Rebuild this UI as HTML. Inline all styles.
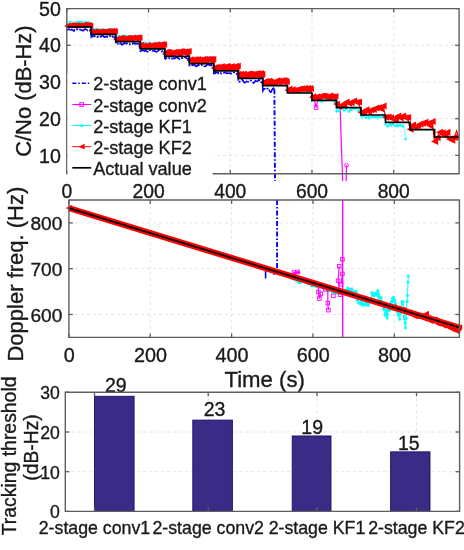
<!DOCTYPE html>
<html><head><meta charset="utf-8"><style>
html,body{margin:0;padding:0;background:#fff;}
svg{display:block;filter:blur(0.35px);}
text{font-family:"Liberation Sans", sans-serif;fill:#1a1a1a;stroke:#1a1a1a;stroke-width:0.35px;}
</style></head><body>
<svg width="464" height="550" viewBox="0 0 464 550">
<rect width="464" height="550" fill="#fff"/>
<line x1="148.53" y1="8.6" x2="148.53" y2="173.7" stroke="#e4e4e4" stroke-width="1" stroke-dasharray="3,3"/>
<line x1="230.26" y1="8.6" x2="230.26" y2="173.7" stroke="#e4e4e4" stroke-width="1" stroke-dasharray="3,3"/>
<line x1="311.99" y1="8.6" x2="311.99" y2="173.7" stroke="#e4e4e4" stroke-width="1" stroke-dasharray="3,3"/>
<line x1="393.72" y1="8.6" x2="393.72" y2="173.7" stroke="#e4e4e4" stroke-width="1" stroke-dasharray="3,3"/>
<line x1="66.8" y1="155.36" x2="459.1" y2="155.36" stroke="#e4e4e4" stroke-width="1" stroke-dasharray="3,3"/>
<line x1="66.8" y1="118.67" x2="459.1" y2="118.67" stroke="#e4e4e4" stroke-width="1" stroke-dasharray="3,3"/>
<line x1="66.8" y1="81.98" x2="459.1" y2="81.98" stroke="#e4e4e4" stroke-width="1" stroke-dasharray="3,3"/>
<line x1="66.8" y1="45.29" x2="459.1" y2="45.29" stroke="#e4e4e4" stroke-width="1" stroke-dasharray="3,3"/>
<polyline points="66.8,24.66 67.62,25.17 68.43,25.17 69.25,25.36 70.07,24.57 70.89,24.62 71.7,24.52 72.52,24.61 73.34,25.23 74.16,24.5 74.97,24.98 75.79,24.6 76.61,24.7 77.42,24.86 78.24,25.35 79.06,25.07 79.88,24.36 80.69,24.68 81.51,24.52 82.33,25.39 83.15,25.32 83.96,25.31 84.78,25.34 85.6,25.24 86.41,25.48 87.23,25.3 88.05,24.65 88.87,25.36 89.68,24.93 90.5,25.25 91.32,32.36 92.14,32.2 92.95,32.12 93.77,32.2 94.59,32.06 95.41,31.82 96.22,32.67 97.04,32.64 97.86,32.87 98.67,32.51 99.49,32.35 100.31,32.58 101.13,31.84 101.94,32.49 102.76,32.21 103.58,31.89 104.4,31.93 105.21,32.31 106.03,31.99 106.85,32.23 107.66,32.41 108.48,32.16 109.3,31.84 110.12,32.27 110.93,31.96 111.75,31.97 112.57,31.92 113.39,32.12 114.2,31.77 115.02,32.46 115.84,40.16 116.65,39.49 117.47,39.88 118.29,40.14 119.11,39.07 119.92,39.19 120.74,39.99 121.56,40.03 122.38,39.79 123.19,39.21 124.01,39.52 124.83,40.06 125.65,40.08 126.46,39.98 127.28,39.26 128.1,40.04 128.91,39.47 129.73,39.88 130.55,39.18 131.37,40.19 132.18,39.74 133,39.89 133.82,39.27 134.64,39.76 135.45,39.72 136.27,39.73 137.09,39.45 137.9,39.89 138.72,39.43 139.54,39.37 140.36,46.56 141.17,47.18 141.99,46.49 142.81,46.63 143.63,46.44 144.44,47.13 145.26,47.03 146.08,47.01 146.89,46.4 147.71,46.89 148.53,46.77 149.35,46.47 150.16,46.36 150.98,47.56 151.8,46.5 152.62,46.72 153.43,46.68 154.25,47.07 155.07,46.45 155.88,46.92 156.7,46.8 157.52,47.36 158.34,46.36 159.15,46.76 159.97,46.95 160.79,47.52 161.61,46.98 162.42,46.93 163.24,47.16 164.06,46.71 164.88,53.73 165.69,54.3 166.51,54.79 167.33,54.58 168.14,54.01 168.96,54.52 169.78,54.71 170.6,54.01 171.41,54.4 172.23,54.12 173.05,53.99 173.87,54.04 174.68,53.94 175.5,54.12 176.32,53.74 177.13,54.17 177.95,53.8 178.77,54.61 179.59,54.42 180.4,53.7 181.22,54.62 182.04,53.92 182.86,54.27 183.67,54.36 184.49,54.09 185.31,54.04 186.12,54.22 186.94,53.86 187.76,54.73 188.58,53.83 189.39,62.02 190.21,61.3 191.03,61.4 191.85,61.5 192.66,61.07 193.48,61.19 194.3,61.47 195.11,61.56 195.93,62.09 196.75,62.22 197.57,61.09 198.38,61.68 199.2,61.19 200.02,62 200.84,61.42 201.65,62.1 202.47,61.69 203.29,61.18 204.11,61.04 204.92,61.33 205.74,62.07 206.56,61.21 207.37,61.61 208.19,61.48 209.01,61.45 209.83,62 210.64,61.29 211.46,61.9 212.28,61.83 213.1,62.16 213.91,68.99 214.73,69.48 215.55,68.9 216.36,69.06 217.18,69.12 218,69.38 218.82,69.45 219.63,68.51 220.45,68.54 221.27,69.01 222.09,69.35 222.9,69.01 223.72,68.73 224.54,69.53 225.35,68.73 226.17,68.48 226.99,68.43 227.81,68.41 228.62,69.24 229.44,68.5 230.26,69.23 231.08,69.41 231.89,69.57 232.71,69.34 233.53,68.88 234.34,69.12 235.16,69.37 235.98,69.23 236.8,68.72 237.61,69.29 238.43,75.84 239.25,76.08 240.07,76.9 240.88,76.27 241.7,76.03 242.52,76.65 243.33,76.25 244.15,75.71 244.97,75.74 245.79,76.02 246.6,76.11 247.42,76.83 248.24,76.01 249.06,76.73 249.87,76.73 250.69,76.21 251.51,76.9 252.33,76.62 253.14,76.29 253.96,76.02 254.78,76.26 255.59,76.79 256.41,76.35 257.23,75.94 258.05,76.16 258.86,76.28 259.68,75.94 260.5,76.4 261.32,75.75 262.13,76.69 262.95,83.26 263.77,83.17 264.58,83.75 265.4,83.42 266.22,84.11 267.04,83.64 267.85,83.67 268.67,84.05 269.49,83.3 270.31,83.94 271.12,83.83 271.94,83.56 272.76,84.2 273.57,83.07 274.39,84.08 275.21,83.22 276.03,84.05 276.84,83.23 277.66,83.11 278.48,83.65 279.3,84.16 280.11,83.36 280.93,83.63 281.75,83.78 282.56,83.34 283.38,83.68 284.2,83.06 285.02,83.59 285.83,83.96 286.65,83.45 287.47,90.65 288.29,90.45 289.1,91.23 289.92,90.9 290.74,91.48 291.56,91.27 292.37,90.5 293.19,91.48 294.01,91.5 294.82,91.36 295.64,91.38 296.46,91.2 297.28,91.25 298.09,91.19 298.91,91.09 299.73,90.69 300.55,90.54 301.36,91.26 302.18,91.1 303,90.45 303.81,91.15 304.63,91.12 305.45,91 306.27,91.31 307.08,91.44 307.9,90.84 308.72,91.36 309.54,90.98 310.35,91.07 311.17,90.88 311.99,98.84 312.8,98.26 313.62,98.87 314.44,100.32 315.26,103.92 316.07,107.52 316.89,103.92 317.71,100.32 318.53,97.82 319.34,98.3 320.16,98.22 320.98,98.7 321.8,98.66 322.61,98.91 323.43,98.26 324.25,98.21 325.06,98.4 325.88,98.62 326.7,97.82 327.52,97.98 328.33,97.9 329.15,98.11 329.97,98.08 330.79,98.88 331.6,97.97 332.42,98.84 333.24,98.08 334.05,97.97 334.87,98.89 335.69,97.83 336.51,105.2 337.32,105.21 338.14,105.14 338.96,105.52 339.78,105.31 340.18,109.66 342.64,181.04" fill="none" stroke="#ff00ff" stroke-width="1.2" />
<polyline points="346.11,181.04 346.52,165.26" fill="none" stroke="#ff00ff" stroke-width="1.2" />
<rect x="314.27" y="105.72" width="3.6" height="3.6" fill="none" stroke="#ff00ff" stroke-width="0.9"/>
<circle cx="346.52" cy="165.26" r="1.9" fill="none" stroke="#ff00ff" stroke-width="0.9"/>
<polyline points="66.8,22.1 67.62,22.43 68.43,22.44 69.25,21.5 70.07,21.26 70.89,21.92 71.7,21.74 72.52,22.7 73.34,22.49 74.16,22.33 74.97,22.25 75.79,22.43 76.61,21.51 77.42,22.04 78.24,21.54 79.06,22.88 79.88,21.35 80.69,22.72 81.51,21.38 82.33,22.48 83.15,21.85 83.96,21.97 84.78,22.76 85.6,21.28 86.41,21.35 87.23,22.89 88.05,22.16 88.87,21.41 89.68,23.02 90.5,22.95 91.32,28.43 92.14,28.99 92.95,28.48 93.77,28.79 94.59,29.35 95.41,28.53 96.22,29.49 97.04,28.32 97.86,28.54 98.67,29.7 99.49,28.95 100.31,28.99 101.13,29.3 101.94,29.09 102.76,28.92 103.58,28.29 104.4,29.54 105.21,29.97 106.03,29.99 106.85,29.43 107.66,28.87 108.48,28.89 109.3,29.47 110.12,29.45 110.93,28.44 111.75,28.66 112.57,28.89 113.39,29.15 114.2,29.69 115.02,29.13 115.84,35.27 116.65,36.7 117.47,35.99 118.29,36.15 119.11,35.62 119.92,35.99 120.74,35.92 121.56,36.61 122.38,35.4 123.19,36.21 124.01,35.54 124.83,36.47 125.65,35.29 126.46,35.72 127.28,35.84 128.1,36.37 128.91,35.31 129.73,36.05 130.55,35.6 131.37,35.73 132.18,36.08 133,36.95 133.82,36.09 134.64,36.94 135.45,35.52 136.27,36.88 137.09,35.88 137.9,35.56 138.72,36.57 139.54,36.86 140.36,42.07 141.17,42.54 141.99,43.44 142.81,42.67 143.63,42.49 144.44,42.07 145.26,42.13 146.08,43.17 146.89,43.83 147.71,43.86 148.53,42.96 149.35,42.1 150.16,42.64 150.98,43.48 151.8,43.56 152.62,43.21 153.43,42.47 154.25,43.01 155.07,42.92 155.88,43.19 156.7,42.53 157.52,43.76 158.34,43.67 159.15,42.35 159.97,42.58 160.79,43.63 161.61,42.56 162.42,43.76 163.24,42.99 164.06,43.31 164.88,52.66 165.69,51.78 166.51,51.91 167.33,51.85 168.14,52.63 168.96,52.64 169.78,51.63 170.6,52.99 171.41,52.15 172.23,51.83 173.05,52.18 173.87,53.16 174.68,52.4 175.5,52.52 176.32,53.05 177.13,53.13 177.95,52.76 178.77,52.15 179.59,52.45 180.4,53.02 181.22,52.82 182.04,52.44 182.86,52.02 183.67,52.06 184.49,52.72 185.31,52.41 186.12,51.43 186.94,52.67 187.76,53.02 188.58,52.83 189.39,62.35 190.21,62.37 191.03,61.7 191.85,62.15 192.66,61.42 193.48,60.91 194.3,61.37 195.11,61.3 195.93,62.41 196.75,61.97 197.57,61.71 198.38,61.85 199.2,60.96 200.02,61.69 200.84,61.99 201.65,61.44 202.47,61.18 203.29,61.47 204.11,61.32 204.92,61.97 205.74,60.99 206.56,60.9 207.37,61.3 208.19,61.99 209.01,62.1 209.83,61.92 210.64,62.42 211.46,61.39 212.28,60.79 213.1,61.61 213.91,69.07 214.73,68.59 215.55,69.47 216.36,68.89 217.18,68.7 218,68.86 218.82,69.97 219.63,68.29 220.45,68.92 221.27,68.77 222.09,68.63 222.9,69.05 223.72,68.67 224.54,69.93 225.35,69.17 226.17,69.53 226.99,68.56 227.81,69.11 228.62,69.36 229.44,69.79 230.26,68.72 231.08,69.1 231.89,69.81 232.71,69.77 233.53,68.68 234.34,69.24 235.16,69.64 235.98,68.98 236.8,69.48 237.61,69.47 238.43,77.56 239.25,76.81 240.07,77.03 240.88,76.44 241.7,77.13 242.52,76.39 243.33,76.71 244.15,76.46 244.97,76.36 245.79,76.05 246.6,76.22 247.42,76.79 248.24,76.26 249.06,75.89 249.87,77.26 250.69,76.32 251.51,77.49 252.33,76.89 253.14,76.51 253.96,77.38 254.78,77.42 255.59,76.39 256.41,76.04 257.23,76.96 258.05,77.33 258.86,76.9 259.68,77.22 260.5,76.55 261.32,76.92 262.13,76.28 262.95,83.98 263.77,83.93 264.58,83.94 265.4,83.97 266.22,84.7 267.04,83.55 267.85,83.62 268.67,83.71 269.49,84.99 270.31,84.19 271.12,83.34 271.94,84.75 272.76,84.82 273.57,84.72 274.39,83.89 275.21,84.57 276.03,83.8 276.84,83.49 277.66,84.8 278.48,84.75 279.3,83.63 280.11,84.83 280.93,83.29 281.75,83.8 282.56,83.27 283.38,83.55 284.2,83.54 285.02,84.54 285.83,83.78 286.65,83.59 287.47,91.27 288.29,91.5 289.1,92.49 289.92,92.03 290.74,91.12 291.56,92.17 292.37,91.9 293.19,91.74 294.01,91.88 294.82,92.11 295.64,92.38 296.46,91.84 297.28,92.08 298.09,91.78 298.91,92.08 299.73,91.63 300.55,91.68 301.36,91.86 302.18,92.22 303,91.44 303.81,92.6 304.63,91.82 305.45,92.47 306.27,92.18 307.08,92.66 307.9,92.16 308.72,91.7 309.54,91.67 310.35,92.03 311.17,92.29" fill="none" stroke="#00ffff" stroke-width="1.1" />
<polyline points="311.17,92.29 311.99,101.01 312.8,97.89 313.62,97.6 314.44,97.8 315.26,97.69 316.07,97.57 316.89,97.36 317.71,98.42 318.53,97.82 319.34,100.34 320.16,100.03 320.98,101.57 321.8,101.55 322.61,100.61 323.43,101.5 324.25,97.45 325.06,98.33 325.88,101.4 326.7,99.41 327.52,98.23 328.33,100.65 329.15,99.19 329.97,99.71 330.79,98.71 331.6,98.39 332.42,97.71 333.24,99.99 334.05,101.51 334.87,101.66 335.69,100.69 336.51,111.37 337.32,108.85 338.14,108.57 338.96,111.32 339.78,109.9 340.59,110.2 341.41,107.32 342.23,108.27 343.04,109.38 343.86,110.48 344.68,110.89 345.5,110.59 346.31,108.75 347.13,108.94 347.95,111.05 348.77,111.61 349.58,109.39 350.4,108.12 351.22,110.01 352.03,109.62 352.85,108.85 353.67,108.27 354.49,108.96 355.3,109.95 356.12,107.82 356.94,109.64 357.76,111.45 358.57,110.54 359.39,108.37 360.21,109.1 361.03,115.75 361.84,118.54 362.66,118.08 363.48,116.06 364.29,117.71 365.11,117.92 365.93,117.84 366.75,116.96 367.56,116.66 368.38,116.86 369.2,119.69 370.02,116.75 370.83,117.51 371.65,117.32 372.47,116.06 373.28,117.06 374.1,116.2 374.92,116.72 375.74,116.91 376.55,116.84 377.37,119.42 378.19,116.6 379.01,116.76 379.82,118.19 380.64,117.05 381.46,117.57 382.27,118.15 383.09,115.62 383.91,118.25 384.73,115.74 385.54,124.24 386.36,126.7 387.18,127.49 388,126.1 388.81,123.89 389.63,125.06 390.45,124.38 391.26,126.84 392.08,124.16 392.9,124 393.72,125.94 394.53,125.94 395.35,125.73 396.17,125.24 396.99,127.36 397.8,125.15 398.62,127.26 399.44,124.86 400.25,125.18 401.07,124.72 401.89,126.28 402.71,126.44 403.52,124.19 404.75,129.67 405.57,139.21" fill="none" stroke="#00ffff" stroke-width="0.7" />
<path d="M287.47 91.27m-1.3 0a1.3 1.3 0 1 0 2.6 0a1.3 1.3 0 1 0 -2.6 0M289.92 92.03m-1.3 0a1.3 1.3 0 1 0 2.6 0a1.3 1.3 0 1 0 -2.6 0M292.37 91.9m-1.3 0a1.3 1.3 0 1 0 2.6 0a1.3 1.3 0 1 0 -2.6 0M294.82 92.11m-1.3 0a1.3 1.3 0 1 0 2.6 0a1.3 1.3 0 1 0 -2.6 0M297.28 92.08m-1.3 0a1.3 1.3 0 1 0 2.6 0a1.3 1.3 0 1 0 -2.6 0M299.73 91.63m-1.3 0a1.3 1.3 0 1 0 2.6 0a1.3 1.3 0 1 0 -2.6 0M302.18 92.22m-1.3 0a1.3 1.3 0 1 0 2.6 0a1.3 1.3 0 1 0 -2.6 0M304.63 91.82m-1.3 0a1.3 1.3 0 1 0 2.6 0a1.3 1.3 0 1 0 -2.6 0M307.08 92.66m-1.3 0a1.3 1.3 0 1 0 2.6 0a1.3 1.3 0 1 0 -2.6 0M309.54 91.67m-1.3 0a1.3 1.3 0 1 0 2.6 0a1.3 1.3 0 1 0 -2.6 0M311.99 101.01m-1.3 0a1.3 1.3 0 1 0 2.6 0a1.3 1.3 0 1 0 -2.6 0M314.44 97.8m-1.3 0a1.3 1.3 0 1 0 2.6 0a1.3 1.3 0 1 0 -2.6 0M316.89 97.36m-1.3 0a1.3 1.3 0 1 0 2.6 0a1.3 1.3 0 1 0 -2.6 0M319.34 100.34m-1.3 0a1.3 1.3 0 1 0 2.6 0a1.3 1.3 0 1 0 -2.6 0M321.8 101.55m-1.3 0a1.3 1.3 0 1 0 2.6 0a1.3 1.3 0 1 0 -2.6 0M324.25 97.45m-1.3 0a1.3 1.3 0 1 0 2.6 0a1.3 1.3 0 1 0 -2.6 0M326.7 99.41m-1.3 0a1.3 1.3 0 1 0 2.6 0a1.3 1.3 0 1 0 -2.6 0M329.15 99.19m-1.3 0a1.3 1.3 0 1 0 2.6 0a1.3 1.3 0 1 0 -2.6 0M331.6 98.39m-1.3 0a1.3 1.3 0 1 0 2.6 0a1.3 1.3 0 1 0 -2.6 0M334.05 101.51m-1.3 0a1.3 1.3 0 1 0 2.6 0a1.3 1.3 0 1 0 -2.6 0M336.51 111.37m-1.3 0a1.3 1.3 0 1 0 2.6 0a1.3 1.3 0 1 0 -2.6 0M338.96 111.32m-1.3 0a1.3 1.3 0 1 0 2.6 0a1.3 1.3 0 1 0 -2.6 0M341.41 107.32m-1.3 0a1.3 1.3 0 1 0 2.6 0a1.3 1.3 0 1 0 -2.6 0M343.86 110.48m-1.3 0a1.3 1.3 0 1 0 2.6 0a1.3 1.3 0 1 0 -2.6 0M346.31 108.75m-1.3 0a1.3 1.3 0 1 0 2.6 0a1.3 1.3 0 1 0 -2.6 0M348.77 111.61m-1.3 0a1.3 1.3 0 1 0 2.6 0a1.3 1.3 0 1 0 -2.6 0M351.22 110.01m-1.3 0a1.3 1.3 0 1 0 2.6 0a1.3 1.3 0 1 0 -2.6 0M353.67 108.27m-1.3 0a1.3 1.3 0 1 0 2.6 0a1.3 1.3 0 1 0 -2.6 0M356.12 107.82m-1.3 0a1.3 1.3 0 1 0 2.6 0a1.3 1.3 0 1 0 -2.6 0M358.57 110.54m-1.3 0a1.3 1.3 0 1 0 2.6 0a1.3 1.3 0 1 0 -2.6 0M361.03 115.75m-1.3 0a1.3 1.3 0 1 0 2.6 0a1.3 1.3 0 1 0 -2.6 0M363.48 116.06m-1.3 0a1.3 1.3 0 1 0 2.6 0a1.3 1.3 0 1 0 -2.6 0M365.93 117.84m-1.3 0a1.3 1.3 0 1 0 2.6 0a1.3 1.3 0 1 0 -2.6 0M368.38 116.86m-1.3 0a1.3 1.3 0 1 0 2.6 0a1.3 1.3 0 1 0 -2.6 0M370.83 117.51m-1.3 0a1.3 1.3 0 1 0 2.6 0a1.3 1.3 0 1 0 -2.6 0M373.28 117.06m-1.3 0a1.3 1.3 0 1 0 2.6 0a1.3 1.3 0 1 0 -2.6 0M375.74 116.91m-1.3 0a1.3 1.3 0 1 0 2.6 0a1.3 1.3 0 1 0 -2.6 0M378.19 116.6m-1.3 0a1.3 1.3 0 1 0 2.6 0a1.3 1.3 0 1 0 -2.6 0M380.64 117.05m-1.3 0a1.3 1.3 0 1 0 2.6 0a1.3 1.3 0 1 0 -2.6 0M383.09 115.62m-1.3 0a1.3 1.3 0 1 0 2.6 0a1.3 1.3 0 1 0 -2.6 0M385.54 124.24m-1.3 0a1.3 1.3 0 1 0 2.6 0a1.3 1.3 0 1 0 -2.6 0M388 126.1m-1.3 0a1.3 1.3 0 1 0 2.6 0a1.3 1.3 0 1 0 -2.6 0M390.45 124.38m-1.3 0a1.3 1.3 0 1 0 2.6 0a1.3 1.3 0 1 0 -2.6 0M392.9 124m-1.3 0a1.3 1.3 0 1 0 2.6 0a1.3 1.3 0 1 0 -2.6 0M395.35 125.73m-1.3 0a1.3 1.3 0 1 0 2.6 0a1.3 1.3 0 1 0 -2.6 0M397.8 125.15m-1.3 0a1.3 1.3 0 1 0 2.6 0a1.3 1.3 0 1 0 -2.6 0M400.25 125.18m-1.3 0a1.3 1.3 0 1 0 2.6 0a1.3 1.3 0 1 0 -2.6 0M402.71 126.44m-1.3 0a1.3 1.3 0 1 0 2.6 0a1.3 1.3 0 1 0 -2.6 0M405.57 139.21m-1.3 0a1.3 1.3 0 1 0 2.6 0a1.3 1.3 0 1 0 -2.6 0" fill="#00ffff"/>
<polyline points="66.8,26.27 67.41,25.31 68.03,25.37 68.64,24.89 69.25,25.95 69.86,25.96 70.48,25.18 71.09,25.29 71.7,25.84 72.32,25.21 72.93,25.66 73.54,25.04 74.16,26.08 74.77,25.89 75.38,24.79 75.99,25.65 76.61,25.79 77.22,24.9 77.83,25.16 78.45,25.92 79.06,25.26 79.67,25.07 80.29,25.85 80.9,25.06 81.51,25.89 82.12,25.53 82.74,25.92 83.35,25.71 83.96,24.46 84.58,25.36 85.19,24.41 85.8,25.28 86.41,24.99 87.03,24.55 87.64,24.84 88.25,25.74 88.87,24.96 89.48,24.88 90.09,25.58 90.71,25.71 91.32,31.11 91.93,31.77 92.54,32.35 93.16,31.85 93.77,32.27 94.38,31.17 95,31.71 95.61,32.44 96.22,31.09 96.84,32.43 97.45,32.06 98.06,32.51 98.67,31.17 99.29,32.32 99.9,31.53 100.51,32.32 101.13,31.58 101.74,31.19 102.35,31.45 102.97,31.58 103.58,31.51 104.19,31.58 104.8,31.27 105.42,32.19 106.03,31.46 106.64,31.89 107.26,30.7 107.87,30.55 108.48,32.16 109.09,32 109.71,30.94 110.32,31.17 110.93,32.18 111.55,30.89 112.16,30.42 112.77,31.38 113.39,31.5 114,31.07 114.61,30.37 115.22,31.61 115.84,39.2 116.45,39.43 117.06,38.47 117.68,38.79 118.29,39.23 118.9,38.93 119.52,39.66 120.13,39.05 120.74,37.61 121.35,38.43 121.97,39.06 122.58,37.65 123.19,38.87 123.81,39.08 124.42,39.52 125.03,39.26 125.65,39.13 126.26,39.05 126.87,37.66 127.48,38.94 128.1,38.96 128.71,38.18 129.32,37.49 129.94,38.81 130.55,37.79 131.16,38.61 131.77,38.18 132.39,38.09 133,37.33 133.61,37.71 134.23,38.22 134.84,37.49 135.45,38.49 136.07,38.43 136.68,37.19 137.29,38.05 137.9,37.55 138.52,38.51 139.13,37.21 139.74,37.84 140.36,46.35 140.97,44.69 141.58,45.78 142.2,46.07 142.81,46.24 143.42,46.6 144.03,46.35 144.65,45.15 145.26,46.45 145.87,46.15 146.49,45.68 147.1,45.43 147.71,45.8 148.32,44.81 148.94,46.06 149.55,45.77 150.16,45.62 150.78,46.31 151.39,46.06 152,46.23 152.62,44.82 153.23,46.19 153.84,44.92 154.45,45.97 155.07,44.93 155.68,44.88 156.29,45.59 156.91,44.18 157.52,44.83 158.13,45.04 158.75,46.25 159.36,45.37 159.97,45.69 160.58,45.18 161.2,44.04 161.81,44.19 162.42,46.1 163.04,44.59 163.65,43.96 164.26,44.89 164.88,54 165.49,52.1 166.1,53.15 166.71,51.78 167.33,52.01 167.94,52.1 168.55,51.83 169.17,53.93 169.78,52.13 170.39,53.3 171,53.7 171.62,53.08 172.23,52.55 172.84,53.96 173.46,52.84 174.07,52 174.68,52.69 175.3,52.59 175.91,53.14 176.52,51.46 177.13,53.21 177.75,52.13 178.36,52.2 178.97,53.76 179.59,51.3 180.2,53.14 180.81,51.27 181.43,51.4 182.04,51.45 182.65,51.54 183.26,52.64 183.88,52.5 184.49,52.72 185.1,51.25 185.72,53.45 186.33,53.17 186.94,51.14 187.55,51.49 188.17,51.71 188.78,51.05 189.39,60.22 190.01,59.42 190.62,60.38 191.23,59.21 191.85,61.27 192.46,60.33 193.07,59.96 193.68,59.39 194.3,60.3 194.91,59.63 195.52,58.89 196.14,60.24 196.75,60.76 197.36,61.17 197.98,59.06 198.59,60.01 199.2,60.2 199.81,59.85 200.43,60.83 201.04,60.55 201.65,60.49 202.27,60.42 202.88,58.89 203.49,60.4 204.11,60.77 204.72,58.8 205.33,59.55 205.94,60.86 206.56,59.22 207.17,59.17 207.78,59.23 208.4,58.9 209.01,59.75 209.62,60.23 210.23,58.91 210.85,59.18 211.46,58.96 212.07,60.24 212.69,59.75 213.3,58.93 213.91,67.91 214.53,67.33 215.14,67.64 215.75,66.9 216.36,67.91 216.98,67.5 217.59,66.64 218.2,67.93 218.82,68.25 219.43,67.05 220.04,68.31 220.66,66.44 221.27,67.9 221.88,66.28 222.49,67.2 223.11,68.14 223.72,67.18 224.33,66.74 224.95,67.22 225.56,66.82 226.17,67.47 226.78,65.94 227.4,67.92 228.01,66.31 228.62,68.26 229.24,67 229.85,68.1 230.46,67.91 231.08,66.72 231.69,65.89 232.3,67.38 232.91,67.12 233.53,66.91 234.14,66.56 234.75,67.18 235.37,67.16 235.98,65.85 236.59,66.59 237.21,67.08 237.82,65.87 238.43,73.65 239.04,75.1 239.66,76.16 240.27,75.38 240.88,73.82 241.5,75.68 242.11,75.58 242.72,74.01 243.33,75.75 243.95,73.81 244.56,75.41 245.17,74.96 245.79,74.4 246.4,75.63 247.01,73.88 247.63,74.73 248.24,73.84 248.85,73.83 249.46,75.59 250.08,73.63 250.69,73.61 251.3,75.09 251.92,74.15 252.53,75.13 253.14,74.24 253.76,73.66 254.37,74.61 254.98,74.18 255.59,75.2 256.21,73.27 256.82,73.86 257.43,73.3 258.05,75.23 258.66,73.47 259.27,75.15 259.89,73.91 260.5,74.73 261.11,72.96 261.72,75.01 262.34,74.03 262.95,82.36 263.56,82.55 264.18,83.34 264.79,81.78 265.4,80.98 266.01,82.5 266.63,81.11 267.24,82.51 267.85,82.65 268.47,82.16 269.08,80.82 269.69,81.28 270.31,81.63 270.92,83.1 271.53,82.03 272.14,83.11 272.76,82.96 273.37,82.14 273.98,82.45 274.6,82.78 275.21,81.72 275.82,81 276.44,80.61 277.05,80.61 277.66,81.83 278.27,82.43 278.89,80.41 279.5,81.75 280.11,81.93 280.73,80.68 281.34,81.33 281.95,80.3 282.56,80.91 283.18,80.27 283.79,82.25 284.4,80.22 285.02,81.21 285.63,80.79 286.24,81.76 286.86,81.88 287.47,90.31 288.49,90.57 289.51,88.57 290.53,90.6 291.56,90.25 292.58,89.24 293.6,90.25 294.62,90.18 295.64,90.03 296.66,90.03 297.68,90.54 298.71,88.69 299.73,88.84 300.75,89.66 301.77,88.15 302.79,88.95 303.81,89.74 304.84,87.85 305.86,89.62 306.88,88.14 307.9,88.07 308.92,90.03 309.94,87.9 310.97,88.91 311.99,97.32 313.01,96.2 314.03,97.34 315.05,97.79 316.07,98.2 317.1,96.15 318.12,97.13 319.14,96.47 320.16,96.58 321.18,95.72 322.2,95.78 323.23,95.73 324.25,96.71 325.27,95.69 326.29,97.09 327.31,97.47 328.33,96.19 329.35,97.6 330.38,95.29 331.4,96.79 332.42,96.5 333.44,96.77 334.46,96.65 335.48,96.08 336.51,104.08 338.96,106.51 341.41,104.92 343.86,104.87 346.31,101.91 348.77,103.38 351.22,102.96 353.67,100.79 356.12,102.37 358.57,101.98 361.03,112.2 363.48,112.67 365.93,109.86 368.38,111.66 370.83,110.12 373.28,109.43 375.74,108.04 378.19,107.8 380.64,108.77 383.09,105.96 385.54,117.21 388,116.91 390.45,117.9 392.9,119.11 395.35,119.33 397.8,115.97 400.25,117.94 402.71,115.95 405.16,117.76 407.61,117.54 410.06,129.27 412.51,124.98 414.97,127.15 417.42,125.71 419.87,124.11 422.32,123.21 424.77,122.28 427.23,123.56 429.68,125.67 432.13,121.47 434.58,141.47 437.03,137.69 439.49,132.36 441.94,132.96 444.39,135.26 446.84,132.33 449.29,139.04 451.74,140.22 454.2,137.44 456.65,130.91 459.1,139.61" fill="none" stroke="#ff0000" stroke-width="1.2" />
<path d="M64.2 26.27L69.4 23.67L69.4 28.87ZM64.81 25.31L70.01 22.71L70.01 27.91ZM65.43 25.37L70.63 22.77L70.63 27.97ZM66.04 24.89L71.24 22.29L71.24 27.49ZM66.65 25.95L71.85 23.35L71.85 28.55ZM67.26 25.96L72.46 23.36L72.46 28.56ZM67.88 25.18L73.08 22.58L73.08 27.78ZM68.49 25.29L73.69 22.69L73.69 27.89ZM69.1 25.84L74.3 23.24L74.3 28.44ZM69.72 25.21L74.92 22.61L74.92 27.81ZM70.33 25.66L75.53 23.06L75.53 28.26ZM70.94 25.04L76.14 22.44L76.14 27.64ZM71.56 26.08L76.76 23.48L76.76 28.68ZM72.17 25.89L77.37 23.29L77.37 28.49ZM72.78 24.79L77.98 22.19L77.98 27.39ZM73.39 25.65L78.59 23.05L78.59 28.25ZM74.01 25.79L79.21 23.19L79.21 28.39ZM74.62 24.9L79.82 22.3L79.82 27.5ZM75.23 25.16L80.43 22.56L80.43 27.76ZM75.85 25.92L81.05 23.32L81.05 28.52ZM76.46 25.26L81.66 22.66L81.66 27.86ZM77.07 25.07L82.27 22.47L82.27 27.67ZM77.69 25.85L82.89 23.25L82.89 28.45ZM78.3 25.06L83.5 22.46L83.5 27.66ZM78.91 25.89L84.11 23.29L84.11 28.49ZM79.52 25.53L84.72 22.93L84.72 28.13ZM80.14 25.92L85.34 23.32L85.34 28.52ZM80.75 25.71L85.95 23.11L85.95 28.31ZM81.36 24.46L86.56 21.86L86.56 27.06ZM81.98 25.36L87.18 22.76L87.18 27.96ZM82.59 24.41L87.79 21.81L87.79 27.01ZM83.2 25.28L88.4 22.68L88.4 27.88ZM83.81 24.99L89.01 22.39L89.01 27.59ZM84.43 24.55L89.63 21.95L89.63 27.15ZM85.04 24.84L90.24 22.24L90.24 27.44ZM85.65 25.74L90.85 23.14L90.85 28.34ZM86.27 24.96L91.47 22.36L91.47 27.56ZM86.88 24.88L92.08 22.28L92.08 27.48ZM87.49 25.58L92.69 22.98L92.69 28.18ZM88.11 25.71L93.31 23.11L93.31 28.31ZM88.62 31.11L94.02 28.41L94.02 33.81ZM89.23 31.77L94.63 29.07L94.63 34.47ZM89.84 32.35L95.24 29.65L95.24 35.05ZM90.46 31.85L95.86 29.15L95.86 34.55ZM91.07 32.27L96.47 29.57L96.47 34.97ZM91.68 31.17L97.08 28.47L97.08 33.87ZM92.3 31.71L97.7 29.01L97.7 34.41ZM92.91 32.44L98.31 29.74L98.31 35.14ZM93.52 31.09L98.92 28.39L98.92 33.79ZM94.14 32.43L99.54 29.73L99.54 35.13ZM94.75 32.06L100.15 29.36L100.15 34.76ZM95.36 32.51L100.76 29.81L100.76 35.21ZM95.97 31.17L101.37 28.47L101.37 33.87ZM96.59 32.32L101.99 29.62L101.99 35.02ZM97.2 31.53L102.6 28.83L102.6 34.23ZM97.81 32.32L103.21 29.62L103.21 35.02ZM98.43 31.58L103.83 28.88L103.83 34.28ZM99.04 31.19L104.44 28.49L104.44 33.89ZM99.65 31.45L105.05 28.75L105.05 34.15ZM100.27 31.58L105.67 28.88L105.67 34.28ZM100.88 31.51L106.28 28.81L106.28 34.21ZM101.49 31.58L106.89 28.88L106.89 34.28ZM102.1 31.27L107.5 28.57L107.5 33.97ZM102.72 32.19L108.12 29.49L108.12 34.89ZM103.33 31.46L108.73 28.76L108.73 34.16ZM103.94 31.89L109.34 29.19L109.34 34.59ZM104.56 30.7L109.96 28L109.96 33.4ZM105.17 30.55L110.57 27.85L110.57 33.25ZM105.78 32.16L111.18 29.46L111.18 34.86ZM106.39 32L111.79 29.3L111.79 34.7ZM107.01 30.94L112.41 28.24L112.41 33.64ZM107.62 31.17L113.02 28.47L113.02 33.87ZM108.23 32.18L113.63 29.48L113.63 34.88ZM108.85 30.89L114.25 28.19L114.25 33.59ZM109.46 30.42L114.86 27.72L114.86 33.12ZM110.07 31.38L115.47 28.68L115.47 34.08ZM110.69 31.5L116.09 28.8L116.09 34.2ZM111.3 31.07L116.7 28.37L116.7 33.77ZM111.91 30.37L117.31 27.67L117.31 33.07ZM112.52 31.61L117.92 28.91L117.92 34.31ZM113.04 39.2L118.64 36.4L118.64 42ZM113.65 39.43L119.25 36.63L119.25 42.23ZM114.26 38.47L119.86 35.67L119.86 41.27ZM114.88 38.79L120.48 35.99L120.48 41.59ZM115.49 39.23L121.09 36.43L121.09 42.03ZM116.1 38.93L121.7 36.13L121.7 41.73ZM116.72 39.66L122.32 36.86L122.32 42.46ZM117.33 39.05L122.93 36.25L122.93 41.85ZM117.94 37.61L123.54 34.81L123.54 40.41ZM118.55 38.43L124.15 35.63L124.15 41.23ZM119.17 39.06L124.77 36.26L124.77 41.86ZM119.78 37.65L125.38 34.85L125.38 40.45ZM120.39 38.87L125.99 36.07L125.99 41.67ZM121.01 39.08L126.61 36.28L126.61 41.88ZM121.62 39.52L127.22 36.72L127.22 42.32ZM122.23 39.26L127.83 36.46L127.83 42.06ZM122.85 39.13L128.45 36.33L128.45 41.93ZM123.46 39.05L129.06 36.25L129.06 41.85ZM124.07 37.66L129.67 34.86L129.67 40.46ZM124.68 38.94L130.28 36.14L130.28 41.74ZM125.3 38.96L130.9 36.16L130.9 41.76ZM125.91 38.18L131.51 35.38L131.51 40.98ZM126.52 37.49L132.12 34.69L132.12 40.29ZM127.14 38.81L132.74 36.01L132.74 41.61ZM127.75 37.79L133.35 34.99L133.35 40.59ZM128.36 38.61L133.96 35.81L133.96 41.41ZM128.97 38.18L134.57 35.38L134.57 40.98ZM129.59 38.09L135.19 35.29L135.19 40.89ZM130.2 37.33L135.8 34.53L135.8 40.13ZM130.81 37.71L136.41 34.91L136.41 40.51ZM131.43 38.22L137.03 35.42L137.03 41.02ZM132.04 37.49L137.64 34.69L137.64 40.29ZM132.65 38.49L138.25 35.69L138.25 41.29ZM133.27 38.43L138.87 35.63L138.87 41.23ZM133.88 37.19L139.48 34.39L139.48 39.99ZM134.49 38.05L140.09 35.25L140.09 40.85ZM135.1 37.55L140.7 34.75L140.7 40.35ZM135.72 38.51L141.32 35.71L141.32 41.31ZM136.33 37.21L141.93 34.41L141.93 40.01ZM136.94 37.84L142.54 35.04L142.54 40.64ZM137.49 46.35L143.22 43.49L143.22 49.22ZM138.1 44.69L143.84 41.82L143.84 47.55ZM138.72 45.78L144.45 42.92L144.45 48.65ZM139.33 46.07L145.06 43.21L145.06 48.94ZM139.94 46.24L145.67 43.37L145.67 49.11ZM140.55 46.6L146.29 43.74L146.29 49.47ZM141.17 46.35L146.9 43.48L146.9 49.22ZM141.78 45.15L147.51 42.28L147.51 48.02ZM142.39 46.45L148.13 43.59L148.13 49.32ZM143.01 46.15L148.74 43.28L148.74 49.02ZM143.62 45.68L149.35 42.81L149.35 48.55ZM144.23 45.43L149.97 42.56L149.97 48.29ZM144.85 45.8L150.58 42.93L150.58 48.67ZM145.46 44.81L151.19 41.94L151.19 47.68ZM146.07 46.06L151.8 43.19L151.8 48.93ZM146.68 45.77L152.42 42.9L152.42 48.64ZM147.3 45.62L153.03 42.75L153.03 48.48ZM147.91 46.31L153.64 43.44L153.64 49.17ZM148.52 46.06L154.26 43.2L154.26 48.93ZM149.14 46.23L154.87 43.36L154.87 49.09ZM149.75 44.82L155.48 41.95L155.48 47.68ZM150.36 46.19L156.1 43.32L156.1 49.05ZM150.97 44.92L156.71 42.05L156.71 47.78ZM151.59 45.97L157.32 43.1L157.32 48.83ZM152.2 44.93L157.93 42.06L157.93 47.79ZM152.81 44.88L158.55 42.02L158.55 47.75ZM153.43 45.59L159.16 42.73L159.16 48.46ZM154.04 44.18L159.77 41.32L159.77 47.05ZM154.65 44.83L160.39 41.96L160.39 47.69ZM155.27 45.04L161 42.18L161 47.91ZM155.88 46.25L161.61 43.39L161.61 49.12ZM156.49 45.37L162.22 42.5L162.22 48.23ZM157.1 45.69L162.84 42.82L162.84 48.55ZM157.72 45.18L163.45 42.31L163.45 48.04ZM158.33 44.04L164.06 41.18L164.06 46.91ZM158.94 44.19L164.68 41.33L164.68 47.06ZM159.56 46.1L165.29 43.23L165.29 48.96ZM160.17 44.59L165.9 41.73L165.9 47.46ZM160.78 43.96L166.52 41.1L166.52 46.83ZM161.4 44.89L167.13 42.02L167.13 47.75ZM161.94 54L167.81 51.07L167.81 56.94ZM162.55 52.1L168.42 49.16L168.42 55.03ZM163.17 53.15L169.03 50.22L169.03 56.09ZM163.78 51.78L169.65 48.84L169.65 54.71ZM164.39 52.01L170.26 49.08L170.26 54.95ZM165.01 52.1L170.87 49.17L170.87 55.04ZM165.62 51.83L171.49 48.9L171.49 54.77ZM166.23 53.93L172.1 50.99L172.1 56.86ZM166.85 52.13L172.71 49.19L172.71 55.06ZM167.46 53.3L173.33 50.37L173.33 56.24ZM168.07 53.7L173.94 50.77L173.94 56.63ZM168.68 53.08L174.55 50.15L174.55 56.01ZM169.3 52.55L175.16 49.61L175.16 55.48ZM169.91 53.96L175.78 51.02L175.78 56.89ZM170.52 52.84L176.39 49.91L176.39 55.78ZM171.14 52L177 49.07L177 54.94ZM171.75 52.69L177.62 49.76L177.62 55.62ZM172.36 52.59L178.23 49.66L178.23 55.52ZM172.98 53.14L178.84 50.2L178.84 56.07ZM173.59 51.46L179.45 48.53L179.45 54.39ZM174.2 53.21L180.07 50.28L180.07 56.15ZM174.81 52.13L180.68 49.2L180.68 55.06ZM175.43 52.2L181.29 49.26L181.29 55.13ZM176.04 53.76L181.91 50.82L181.91 56.69ZM176.65 51.3L182.52 48.36L182.52 54.23ZM177.27 53.14L183.13 50.21L183.13 56.07ZM177.88 51.27L183.75 48.34L183.75 54.21ZM178.49 51.4L184.36 48.47L184.36 54.33ZM179.1 51.45L184.97 48.51L184.97 54.38ZM179.72 51.54L185.58 48.6L185.58 54.47ZM180.33 52.64L186.2 49.7L186.2 55.57ZM180.94 52.5L186.81 49.56L186.81 55.43ZM181.56 52.72L187.42 49.79L187.42 55.65ZM182.17 51.25L188.04 48.32L188.04 54.19ZM182.78 53.45L188.65 50.52L188.65 56.39ZM183.4 53.17L189.26 50.24L189.26 56.1ZM184.01 51.14L189.88 48.21L189.88 54.07ZM184.62 51.49L190.49 48.55L190.49 54.42ZM185.23 51.71L191.1 48.78L191.1 54.65ZM185.85 51.05L191.71 48.12L191.71 53.98ZM186.39 60.22L192.39 57.22L192.39 63.22ZM187.01 59.42L193.01 56.42L193.01 62.42ZM187.62 60.38L193.62 57.38L193.62 63.38ZM188.23 59.21L194.23 56.21L194.23 62.21ZM188.85 61.27L194.85 58.27L194.85 64.27ZM189.46 60.33L195.46 57.33L195.46 63.33ZM190.07 59.96L196.07 56.96L196.07 62.96ZM190.68 59.39L196.68 56.39L196.68 62.39ZM191.3 60.3L197.3 57.3L197.3 63.3ZM191.91 59.63L197.91 56.63L197.91 62.63ZM192.52 58.89L198.52 55.89L198.52 61.89ZM193.14 60.24L199.14 57.24L199.14 63.24ZM193.75 60.76L199.75 57.76L199.75 63.76ZM194.36 61.17L200.36 58.17L200.36 64.17ZM194.98 59.06L200.98 56.06L200.98 62.06ZM195.59 60.01L201.59 57.01L201.59 63.01ZM196.2 60.2L202.2 57.2L202.2 63.2ZM196.81 59.85L202.81 56.85L202.81 62.85ZM197.43 60.83L203.43 57.83L203.43 63.83ZM198.04 60.55L204.04 57.55L204.04 63.55ZM198.65 60.49L204.65 57.49L204.65 63.49ZM199.27 60.42L205.27 57.42L205.27 63.42ZM199.88 58.89L205.88 55.89L205.88 61.89ZM200.49 60.4L206.49 57.4L206.49 63.4ZM201.11 60.77L207.11 57.77L207.11 63.77ZM201.72 58.8L207.72 55.8L207.72 61.8ZM202.33 59.55L208.33 56.55L208.33 62.55ZM202.94 60.86L208.94 57.86L208.94 63.86ZM203.56 59.22L209.56 56.22L209.56 62.22ZM204.17 59.17L210.17 56.17L210.17 62.17ZM204.78 59.23L210.78 56.23L210.78 62.23ZM205.4 58.9L211.4 55.9L211.4 61.9ZM206.01 59.75L212.01 56.75L212.01 62.75ZM206.62 60.23L212.62 57.23L212.62 63.23ZM207.23 58.91L213.23 55.91L213.23 61.91ZM207.85 59.18L213.85 56.18L213.85 62.18ZM208.46 58.96L214.46 55.96L214.46 61.96ZM209.07 60.24L215.07 57.24L215.07 63.24ZM209.69 59.75L215.69 56.75L215.69 62.75ZM210.3 58.93L216.3 55.93L216.3 61.93ZM210.91 67.91L216.91 64.91L216.91 70.91ZM211.53 67.33L217.53 64.33L217.53 70.33ZM212.14 67.64L218.14 64.64L218.14 70.64ZM212.75 66.9L218.75 63.9L218.75 69.9ZM213.36 67.91L219.36 64.91L219.36 70.91ZM213.98 67.5L219.98 64.5L219.98 70.5ZM214.59 66.64L220.59 63.64L220.59 69.64ZM215.2 67.93L221.2 64.93L221.2 70.93ZM215.82 68.25L221.82 65.25L221.82 71.25ZM216.43 67.05L222.43 64.05L222.43 70.05ZM217.04 68.31L223.04 65.31L223.04 71.31ZM217.66 66.44L223.66 63.44L223.66 69.44ZM218.27 67.9L224.27 64.9L224.27 70.9ZM218.88 66.28L224.88 63.28L224.88 69.28ZM219.49 67.2L225.49 64.2L225.49 70.2ZM220.11 68.14L226.11 65.14L226.11 71.14ZM220.72 67.18L226.72 64.18L226.72 70.18ZM221.33 66.74L227.33 63.74L227.33 69.74ZM221.95 67.22L227.95 64.22L227.95 70.22ZM222.56 66.82L228.56 63.82L228.56 69.82ZM223.17 67.47L229.17 64.47L229.17 70.47ZM223.78 65.94L229.78 62.94L229.78 68.94ZM224.4 67.92L230.4 64.92L230.4 70.92ZM225.01 66.31L231.01 63.31L231.01 69.31ZM225.62 68.26L231.62 65.26L231.62 71.26ZM226.24 67L232.24 64L232.24 70ZM226.85 68.1L232.85 65.1L232.85 71.1ZM227.46 67.91L233.46 64.91L233.46 70.91ZM228.08 66.72L234.08 63.72L234.08 69.72ZM228.69 65.89L234.69 62.89L234.69 68.89ZM229.3 67.38L235.3 64.38L235.3 70.38ZM229.91 67.12L235.91 64.12L235.91 70.12ZM230.53 66.91L236.53 63.91L236.53 69.91ZM231.14 66.56L237.14 63.56L237.14 69.56ZM231.75 67.18L237.75 64.18L237.75 70.18ZM232.37 67.16L238.37 64.16L238.37 70.16ZM232.98 65.85L238.98 62.85L238.98 68.85ZM233.59 66.59L239.59 63.59L239.59 69.59ZM234.21 67.08L240.21 64.08L240.21 70.08ZM234.82 65.87L240.82 62.87L240.82 68.87ZM235.43 73.65L241.43 70.65L241.43 76.65ZM236.04 75.1L242.04 72.1L242.04 78.1ZM236.66 76.16L242.66 73.16L242.66 79.16ZM237.27 75.38L243.27 72.38L243.27 78.38ZM237.88 73.82L243.88 70.82L243.88 76.82ZM238.5 75.68L244.5 72.68L244.5 78.68ZM239.11 75.58L245.11 72.58L245.11 78.58ZM239.72 74.01L245.72 71.01L245.72 77.01ZM240.33 75.75L246.33 72.75L246.33 78.75ZM240.95 73.81L246.95 70.81L246.95 76.81ZM241.56 75.41L247.56 72.41L247.56 78.41ZM242.17 74.96L248.17 71.96L248.17 77.96ZM242.79 74.4L248.79 71.4L248.79 77.4ZM243.4 75.63L249.4 72.63L249.4 78.63ZM244.01 73.88L250.01 70.88L250.01 76.88ZM244.63 74.73L250.63 71.73L250.63 77.73ZM245.24 73.84L251.24 70.84L251.24 76.84ZM245.85 73.83L251.85 70.83L251.85 76.83ZM246.46 75.59L252.46 72.59L252.46 78.59ZM247.08 73.63L253.08 70.63L253.08 76.63ZM247.69 73.61L253.69 70.61L253.69 76.61ZM248.3 75.09L254.3 72.09L254.3 78.09ZM248.92 74.15L254.92 71.15L254.92 77.15ZM249.53 75.13L255.53 72.13L255.53 78.13ZM250.14 74.24L256.14 71.24L256.14 77.24ZM250.76 73.66L256.76 70.66L256.76 76.66ZM251.37 74.61L257.37 71.61L257.37 77.61ZM251.98 74.18L257.98 71.18L257.98 77.18ZM252.59 75.2L258.59 72.2L258.59 78.2ZM253.21 73.27L259.21 70.27L259.21 76.27ZM253.82 73.86L259.82 70.86L259.82 76.86ZM254.43 73.3L260.43 70.3L260.43 76.3ZM255.05 75.23L261.05 72.23L261.05 78.23ZM255.66 73.47L261.66 70.47L261.66 76.47ZM256.27 75.15L262.27 72.15L262.27 78.15ZM256.89 73.91L262.89 70.91L262.89 76.91ZM257.5 74.73L263.5 71.73L263.5 77.73ZM258.11 72.96L264.11 69.96L264.11 75.96ZM258.72 75.01L264.72 72.01L264.72 78.01ZM259.34 74.03L265.34 71.03L265.34 77.03ZM259.95 82.36L265.95 79.36L265.95 85.36ZM260.56 82.55L266.56 79.55L266.56 85.55ZM261.18 83.34L267.18 80.34L267.18 86.34ZM261.79 81.78L267.79 78.78L267.79 84.78ZM262.4 80.98L268.4 77.98L268.4 83.98ZM263.01 82.5L269.01 79.5L269.01 85.5ZM263.63 81.11L269.63 78.11L269.63 84.11ZM264.24 82.51L270.24 79.51L270.24 85.51ZM264.85 82.65L270.85 79.65L270.85 85.65ZM265.47 82.16L271.47 79.16L271.47 85.16ZM266.08 80.82L272.08 77.82L272.08 83.82ZM266.69 81.28L272.69 78.28L272.69 84.28ZM267.31 81.63L273.31 78.63L273.31 84.63ZM267.92 83.1L273.92 80.1L273.92 86.1ZM268.53 82.03L274.53 79.03L274.53 85.03ZM269.14 83.11L275.14 80.11L275.14 86.11ZM269.76 82.96L275.76 79.96L275.76 85.96ZM270.37 82.14L276.37 79.14L276.37 85.14ZM270.98 82.45L276.98 79.45L276.98 85.45ZM271.6 82.78L277.6 79.78L277.6 85.78ZM272.21 81.72L278.21 78.72L278.21 84.72ZM272.82 81L278.82 78L278.82 84ZM273.44 80.61L279.44 77.61L279.44 83.61ZM274.05 80.61L280.05 77.61L280.05 83.61ZM274.66 81.83L280.66 78.83L280.66 84.83ZM275.27 82.43L281.27 79.43L281.27 85.43ZM275.89 80.41L281.89 77.41L281.89 83.41ZM276.5 81.75L282.5 78.75L282.5 84.75ZM277.11 81.93L283.11 78.93L283.11 84.93ZM277.73 80.68L283.73 77.68L283.73 83.68ZM278.34 81.33L284.34 78.33L284.34 84.33ZM278.95 80.3L284.95 77.3L284.95 83.3ZM279.56 80.91L285.56 77.91L285.56 83.91ZM280.18 80.27L286.18 77.27L286.18 83.27ZM280.79 82.25L286.79 79.25L286.79 85.25ZM281.4 80.22L287.4 77.22L287.4 83.22ZM282.02 81.21L288.02 78.21L288.02 84.21ZM282.63 80.79L288.63 77.79L288.63 83.79ZM283.24 81.76L289.24 78.76L289.24 84.76ZM283.86 81.88L289.86 78.88L289.86 84.88ZM284.47 90.31L290.47 87.31L290.47 93.31ZM285.49 90.57L291.49 87.57L291.49 93.57ZM286.51 88.57L292.51 85.57L292.51 91.57ZM287.53 90.6L293.53 87.6L293.53 93.6ZM288.56 90.25L294.56 87.25L294.56 93.25ZM289.58 89.24L295.58 86.24L295.58 92.24ZM290.6 90.25L296.6 87.25L296.6 93.25ZM291.62 90.18L297.62 87.18L297.62 93.18ZM292.64 90.03L298.64 87.03L298.64 93.03ZM293.66 90.03L299.66 87.03L299.66 93.03ZM294.68 90.54L300.68 87.54L300.68 93.54ZM295.71 88.69L301.71 85.69L301.71 91.69ZM296.73 88.84L302.73 85.84L302.73 91.84ZM297.75 89.66L303.75 86.66L303.75 92.66ZM298.77 88.15L304.77 85.15L304.77 91.15ZM299.79 88.95L305.79 85.95L305.79 91.95ZM300.81 89.74L306.81 86.74L306.81 92.74ZM301.84 87.85L307.84 84.85L307.84 90.85ZM302.86 89.62L308.86 86.62L308.86 92.62ZM303.88 88.14L309.88 85.14L309.88 91.14ZM304.9 88.07L310.9 85.07L310.9 91.07ZM305.92 90.03L311.92 87.03L311.92 93.03ZM306.94 87.9L312.94 84.9L312.94 90.9ZM307.97 88.91L313.97 85.91L313.97 91.91ZM308.99 97.32L314.99 94.32L314.99 100.32ZM310.01 96.2L316.01 93.2L316.01 99.2ZM311.03 97.34L317.03 94.34L317.03 100.34ZM312.05 97.79L318.05 94.79L318.05 100.79ZM313.07 98.2L319.07 95.2L319.07 101.2ZM314.1 96.15L320.1 93.15L320.1 99.15ZM315.12 97.13L321.12 94.13L321.12 100.13ZM316.14 96.47L322.14 93.47L322.14 99.47ZM317.16 96.58L323.16 93.58L323.16 99.58ZM318.18 95.72L324.18 92.72L324.18 98.72ZM319.2 95.78L325.2 92.78L325.2 98.78ZM320.23 95.73L326.23 92.73L326.23 98.73ZM321.25 96.71L327.25 93.71L327.25 99.71ZM322.27 95.69L328.27 92.69L328.27 98.69ZM323.29 97.09L329.29 94.09L329.29 100.09ZM324.31 97.47L330.31 94.47L330.31 100.47ZM325.33 96.19L331.33 93.19L331.33 99.19ZM326.35 97.6L332.35 94.6L332.35 100.6ZM327.38 95.29L333.38 92.29L333.38 98.29ZM328.4 96.79L334.4 93.79L334.4 99.79ZM329.42 96.5L335.42 93.5L335.42 99.5ZM330.44 96.77L336.44 93.77L336.44 99.77ZM331.46 96.65L337.46 93.65L337.46 99.65ZM332.48 96.08L338.48 93.08L338.48 99.08ZM333.11 104.08L339.91 100.68L339.91 107.48ZM335.56 106.51L342.36 103.11L342.36 109.91ZM338.01 104.92L344.81 101.52L344.81 108.32ZM340.46 104.87L347.26 101.47L347.26 108.27ZM342.91 101.91L349.71 98.51L349.71 105.31ZM345.37 103.38L352.17 99.98L352.17 106.78ZM347.82 102.96L354.62 99.56L354.62 106.36ZM350.27 100.79L357.07 97.39L357.07 104.19ZM352.72 102.37L359.52 98.97L359.52 105.77ZM355.17 101.98L361.97 98.58L361.97 105.38ZM357.53 112.2L364.53 108.7L364.53 115.7ZM359.98 112.67L366.98 109.17L366.98 116.17ZM362.43 109.86L369.43 106.36L369.43 113.36ZM364.88 111.66L371.88 108.16L371.88 115.16ZM367.33 110.12L374.33 106.62L374.33 113.62ZM369.78 109.43L376.78 105.93L376.78 112.93ZM372.24 108.04L379.24 104.54L379.24 111.54ZM374.69 107.8L381.69 104.3L381.69 111.3ZM377.14 108.77L384.14 105.27L384.14 112.27ZM379.59 105.96L386.59 102.46L386.59 109.46ZM382.01 117.21L389.08 113.68L389.08 120.74ZM384.46 116.91L391.53 113.38L391.53 120.44ZM386.91 117.9L393.98 114.37L393.98 121.43ZM389.37 119.11L396.43 115.58L396.43 122.64ZM391.82 119.33L398.88 115.79L398.88 122.86ZM394.27 115.97L401.34 112.44L401.34 119.51ZM396.72 117.94L403.79 114.41L403.79 121.48ZM399.17 115.95L406.24 112.41L406.24 119.48ZM401.63 117.76L408.69 114.23L408.69 121.29ZM404.08 117.54L411.14 114.01L411.14 121.08ZM406.5 129.27L413.63 125.71L413.63 132.84ZM408.95 124.98L416.08 121.42L416.08 128.55ZM411.4 127.15L418.53 123.58L418.53 130.72ZM413.85 125.71L420.98 122.14L420.98 129.27ZM416.3 124.11L423.44 120.54L423.44 127.68ZM418.76 123.21L425.89 119.65L425.89 126.78ZM421.21 122.28L428.34 118.72L428.34 125.85ZM423.66 123.56L430.79 119.99L430.79 127.12ZM426.11 125.67L433.24 122.1L433.24 129.24ZM428.56 121.47L435.7 117.91L435.7 125.04ZM430.98 141.47L438.18 137.87L438.18 145.07ZM433.43 137.69L440.63 134.09L440.63 141.29ZM435.89 132.36L443.09 128.76L443.09 135.96ZM438.34 132.96L445.54 129.36L445.54 136.56ZM440.79 135.26L447.99 131.66L447.99 138.86ZM443.24 132.33L450.44 128.73L450.44 135.93ZM445.69 139.04L452.89 135.44L452.89 142.64ZM448.14 140.22L455.34 136.62L455.34 143.82ZM450.6 137.44L457.8 133.84L457.8 141.04Z" fill="#ff0000"/>
<polyline points="66.8,30.31 67.41,29.48 68.03,29.33 68.64,29.49 69.25,29.4 69.86,29.83 70.48,29.94 71.09,30 71.7,29.45 72.32,29.84 72.93,30.05 73.54,30.95 74.16,30.9 74.77,30.07 75.38,30.28 75.99,29.77 76.61,29.3 77.22,29.39 77.83,29.34 78.45,29.52 79.06,30.05 79.67,29.64 80.29,29.71 80.9,29.86 81.51,29.95 82.12,30.56 82.74,30.59 83.35,30.62 83.96,29.84 84.58,29.43 85.19,29.09 85.8,29.35 86.41,29.57 87.03,29.83 87.64,30.62 88.25,30.61 88.87,30.39 89.48,30.28 90.09,30.1 90.71,30.22 91.32,36.95 91.93,36.53 92.54,36.61 93.16,35.84 93.77,35.96 94.38,35.74 95,36.63 95.61,37.02 96.22,36.64 96.84,36.82 97.45,37.23 98.06,36.74 98.67,37.16 99.29,36.81 99.9,36.59 100.51,36.85 101.13,36.58 101.74,35.74 102.35,35.38 102.97,35.72 103.58,36.69 104.19,37.05 104.8,36.89 105.42,37.02 106.03,36.69 106.64,36.41 107.26,36.88 107.87,36.42 108.48,36.77 109.09,36.58 109.71,36.08 110.32,36.16 110.93,35.49 111.55,36.04 112.16,36.08 112.77,36.87 113.39,37.08 114,37.17 114.61,37.46 115.22,36.97 115.84,43.51 116.45,43.93 117.06,43.46 117.68,43.6 118.29,43.79 118.9,43.36 119.52,42.76 120.13,43.6 120.74,43.4 121.35,43.98 121.97,44.78 122.58,44.46 123.19,44.13 123.81,43.51 124.42,43.18 125.03,43.48 125.65,43.28 126.26,43.66 126.87,43.44 127.48,43.34 128.1,43.62 128.71,43.34 129.32,43.78 129.94,44.51 130.55,44.33 131.16,44.34 131.77,44.62 132.39,44.04 133,43.17 133.61,42.97 134.23,43.51 134.84,43.86 135.45,43.36 136.07,43.91 136.68,43.76 137.29,43.59 137.9,43.73 138.52,43.9 139.13,44.19 139.74,44.95 140.36,51.21 140.97,51.04 141.58,50.21 142.2,50.48 142.81,50.42 143.42,50.46 144.03,50.59 144.65,51.08 145.26,50.51 145.87,50.63 146.49,51.08 147.1,51.64 147.71,51.73 148.32,51.49 148.94,51.68 149.55,50.57 150.16,49.92 150.78,49.92 151.39,50.21 152,50.26 152.62,50.69 153.23,51 153.84,51.13 154.45,50.72 155.07,50.97 155.68,51.6 156.29,51.89 156.91,51.66 157.52,51.4 158.13,50.8 158.75,49.96 159.36,49.67 159.97,49.82 160.58,50.95 161.2,51.22 161.81,51.67 162.42,50.91 163.04,51.27 163.65,51.09 164.26,51.37 164.88,58.36 165.49,58.93 166.1,57.96 166.71,57.89 167.33,57.59 167.94,57.52 168.55,57.56 169.17,58 169.78,58.58 170.39,58.97 171,58.53 171.62,58.61 172.23,58.59 172.84,58.53 173.46,58.24 174.07,58.57 174.68,58.47 175.3,57.89 175.91,57.53 176.52,57.15 177.13,57.49 177.75,57.98 178.36,58.1 178.97,58.9 179.59,59.19 180.2,58.85 180.81,58.43 181.43,57.99 182.04,58.27 182.65,58.2 183.26,58.02 183.88,58.09 184.49,57.18 185.1,57.55 185.72,57.13 186.33,58.05 186.94,58.51 187.55,58.67 188.17,59.06 188.78,58.6 189.39,65.53 190.01,65.49 190.62,64.9 191.23,64.78 191.85,65.05 192.46,65.23 193.07,64.63 193.68,64.48 194.3,65.2 194.91,65.42 195.52,65.77 196.14,66.49 196.75,66.05 197.36,65.98 197.98,65.13 198.59,64.95 199.2,65.13 199.81,65.32 200.43,65.43 201.04,65.05 201.65,65.1 202.27,64.78 202.88,64.73 203.49,65.36 204.11,66.1 204.72,66.45 205.33,66.35 205.94,66.18 206.56,65.11 207.17,64.59 207.78,64.67 208.4,64.65 209.01,64.84 209.62,65.15 210.23,65.32 210.85,65.14 211.46,65.04 212.07,65.7 212.69,66.2 213.3,66.07 213.91,73.51 214.53,73.13 215.14,73.25 215.75,72.11 216.36,72.47 216.98,72.51 217.59,72.63 218.2,73.29 218.82,72.77 219.43,72.82 220.04,73.05 220.66,72.84 221.27,73.76 221.88,73.53 222.49,73.45 223.11,73.05 223.72,72.98 224.33,72.35 224.95,72.31 225.56,72.51 226.17,73.03 226.78,73.54 227.4,73.5 228.01,73.09 228.62,73.22 229.24,72.99 229.85,73.01 230.46,73.56 231.08,73.76 231.69,73.05 232.3,72.64 232.91,72.23 233.53,72.33 234.14,72.38 234.75,72.91 235.37,73.49 235.98,73.46 236.59,73.76 237.21,73.69 237.82,72.92 238.43,82.02 239.04,82.05 239.66,81.61 240.27,81.5 240.88,80.9 241.5,80.38 242.11,79.65 242.72,80.15 243.33,81.26 243.95,82.13 244.56,82.79 245.17,82.39 245.79,82.13 246.4,81.35 247.01,81.59 247.63,81.75 248.24,81.67 248.85,81.51 249.46,80.55 250.08,80.48 250.69,80.27 251.3,80.6 251.92,81.11 252.53,82.29 253.14,82.51 253.76,82.97 254.37,82.41 254.98,81.38 255.59,80.79 256.21,81.05 256.82,81.24 257.43,81.37 258.05,80.8 258.66,79.97 259.27,80.36 259.89,80.06 260.5,81.46 261.11,81.91 261.72,82.66 262.34,83 262.95,90.76 263.56,89.49 264.18,88.88 264.79,88.84 265.4,89.2 266.01,89.31 266.63,89.34 267.24,88.49 267.85,88.56 268.47,88.25 269.08,89.5 269.69,91.18 270.31,91.96 270.92,92.26 271.53,91.13 272.14,89.57 272.76,88.7 273.37,88.14 274.39,89.15" fill="none" stroke="#0000ff" stroke-width="1.6" stroke-dasharray="10,1.5,2,1.5"/>
<polyline points="274.39,89.15 275.01,181.04" fill="none" stroke="#0000ff" stroke-width="1.9" stroke-dasharray="5,2,1.5,2"/>
<polyline points="66.8,26.94 91.32,26.94 91.32,34.28 115.84,34.28 115.84,41.62 140.36,41.62 140.36,48.96 164.88,48.96 164.88,56.3 189.39,56.3 189.39,63.63 213.91,63.63 213.91,70.97 238.43,70.97 238.43,78.31 262.95,78.31 262.95,85.65 287.47,85.65 287.47,92.98 311.99,92.98 311.99,100.32 336.51,100.32 336.51,107.66 361.03,107.66 361.03,115 385.54,115 385.54,122.34 410.06,122.34 410.06,129.67 434.58,129.67 434.58,137.01 459.1,137.01" fill="none" stroke="#000000" stroke-width="1.7" />
<path d="M66.8 8.6H459.1V173.7H66.8Z" fill="none" stroke="#5e5e5e" stroke-width="1.4"/>
<line x1="66.8" y1="8.6" x2="66.8" y2="12.6" stroke="#5e5e5e" stroke-width="1.3"/>
<line x1="66.8" y1="173.7" x2="66.8" y2="169.7" stroke="#5e5e5e" stroke-width="1.3"/>
<text transform="translate(66.8,197.8) scale(1,1.07)" font-size="19.3" text-anchor="middle" >0</text>
<line x1="148.53" y1="8.6" x2="148.53" y2="12.6" stroke="#5e5e5e" stroke-width="1.3"/>
<line x1="148.53" y1="173.7" x2="148.53" y2="169.7" stroke="#5e5e5e" stroke-width="1.3"/>
<text transform="translate(148.53,197.8) scale(1,1.07)" font-size="19.3" text-anchor="middle" >200</text>
<line x1="230.26" y1="8.6" x2="230.26" y2="12.6" stroke="#5e5e5e" stroke-width="1.3"/>
<line x1="230.26" y1="173.7" x2="230.26" y2="169.7" stroke="#5e5e5e" stroke-width="1.3"/>
<text transform="translate(230.26,197.8) scale(1,1.07)" font-size="19.3" text-anchor="middle" >400</text>
<line x1="311.99" y1="8.6" x2="311.99" y2="12.6" stroke="#5e5e5e" stroke-width="1.3"/>
<line x1="311.99" y1="173.7" x2="311.99" y2="169.7" stroke="#5e5e5e" stroke-width="1.3"/>
<text transform="translate(311.99,197.8) scale(1,1.07)" font-size="19.3" text-anchor="middle" >600</text>
<line x1="393.72" y1="8.6" x2="393.72" y2="12.6" stroke="#5e5e5e" stroke-width="1.3"/>
<line x1="393.72" y1="173.7" x2="393.72" y2="169.7" stroke="#5e5e5e" stroke-width="1.3"/>
<text transform="translate(393.72,197.8) scale(1,1.07)" font-size="19.3" text-anchor="middle" >800</text>
<line x1="66.8" y1="155.36" x2="70.8" y2="155.36" stroke="#5e5e5e" stroke-width="1.3"/>
<line x1="459.1" y1="155.36" x2="455.1" y2="155.36" stroke="#5e5e5e" stroke-width="1.3"/>
<text transform="translate(60.9,162.56) scale(1,1.06)" font-size="19.6" text-anchor="end" >10</text>
<line x1="66.8" y1="118.67" x2="70.8" y2="118.67" stroke="#5e5e5e" stroke-width="1.3"/>
<line x1="459.1" y1="118.67" x2="455.1" y2="118.67" stroke="#5e5e5e" stroke-width="1.3"/>
<text transform="translate(60.9,125.87) scale(1,1.06)" font-size="19.6" text-anchor="end" >20</text>
<line x1="66.8" y1="81.98" x2="70.8" y2="81.98" stroke="#5e5e5e" stroke-width="1.3"/>
<line x1="459.1" y1="81.98" x2="455.1" y2="81.98" stroke="#5e5e5e" stroke-width="1.3"/>
<text transform="translate(60.9,89.18) scale(1,1.06)" font-size="19.6" text-anchor="end" >30</text>
<line x1="66.8" y1="45.29" x2="70.8" y2="45.29" stroke="#5e5e5e" stroke-width="1.3"/>
<line x1="459.1" y1="45.29" x2="455.1" y2="45.29" stroke="#5e5e5e" stroke-width="1.3"/>
<text transform="translate(60.9,52.49) scale(1,1.06)" font-size="19.6" text-anchor="end" >40</text>
<line x1="66.8" y1="8.6" x2="70.8" y2="8.6" stroke="#5e5e5e" stroke-width="1.3"/>
<line x1="459.1" y1="8.6" x2="455.1" y2="8.6" stroke="#5e5e5e" stroke-width="1.3"/>
<text transform="translate(60.9,15.8) scale(1,1.06)" font-size="19.6" text-anchor="end" >50</text>
<text transform="translate(30.9,91.1) rotate(-90)" font-size="21.9" text-anchor="middle">C/No (dB-Hz)</text>
<rect x="67.5" y="73" width="145" height="103" fill="#fff"/>
<line x1="72.3" y1="83.3" x2="91.2" y2="83.3" stroke="#0000ff" stroke-width="1.6" stroke-dasharray="4,2,1.5,2"/>
<text x="93.2" y="90.3" font-size="18.1" text-anchor="start" >2-stage conv1</text>
<line x1="72.3" y1="104.5" x2="91.2" y2="104.5" stroke="#ff00ff" stroke-width="1.0"/>
<rect x="79.8" y="102.7" width="3.6" height="3.6" fill="none" stroke="#ff00ff" stroke-width="1"/>
<text x="93.2" y="111.5" font-size="18.1" text-anchor="start" >2-stage conv2</text>
<line x1="72.3" y1="125.6" x2="91.2" y2="125.6" stroke="#00ffff" stroke-width="1.0"/>
<circle cx="81.8" cy="125.6" r="1.6" fill="#00ffff"/>
<text x="93.2" y="132.6" font-size="18.1" text-anchor="start" >2-stage KF1</text>
<line x1="72.3" y1="146.7" x2="91.2" y2="146.7" stroke="#ff0000" stroke-width="1.0"/>
<path d="M78.8 146.7L84.6 143.79999999999998L84.6 149.6Z" fill="#ff0000"/>
<text x="93.2" y="153.7" font-size="18.1" text-anchor="start" >2-stage KF2</text>
<line x1="72.3" y1="167.8" x2="91.2" y2="167.8" stroke="#000000" stroke-width="1.7"/>
<text x="93.2" y="174.8" font-size="18.1" text-anchor="start" >Actual value</text>
<line x1="150.25" y1="200.0" x2="150.25" y2="337.4" stroke="#e4e4e4" stroke-width="1" stroke-dasharray="3,3"/>
<line x1="231.61" y1="200.0" x2="231.61" y2="337.4" stroke="#e4e4e4" stroke-width="1" stroke-dasharray="3,3"/>
<line x1="312.96" y1="200.0" x2="312.96" y2="337.4" stroke="#e4e4e4" stroke-width="1" stroke-dasharray="3,3"/>
<line x1="394.32" y1="200.0" x2="394.32" y2="337.4" stroke="#e4e4e4" stroke-width="1" stroke-dasharray="3,3"/>
<line x1="68.9" y1="314.5" x2="459.4" y2="314.5" stroke="#e4e4e4" stroke-width="1" stroke-dasharray="3,3"/>
<line x1="68.9" y1="268.7" x2="459.4" y2="268.7" stroke="#e4e4e4" stroke-width="1" stroke-dasharray="3,3"/>
<line x1="68.9" y1="222.9" x2="459.4" y2="222.9" stroke="#e4e4e4" stroke-width="1" stroke-dasharray="3,3"/>
<polyline points="68.9,208.61 70.53,209.1 72.15,209.6 73.78,210.1 75.41,210.6 77.04,211.09 78.66,211.59 80.29,212.09 81.92,212.59 83.54,213.08 85.17,213.58 86.8,214.08 88.43,214.58 90.05,215.07 91.68,215.57 93.31,216.07 94.93,216.57 96.56,217.06 98.19,217.56 99.81,218.06 101.44,218.56 103.07,219.05 104.7,219.55 106.32,220.05 107.95,220.55 109.58,221.04 111.2,221.54 112.83,222.04 114.46,222.54 116.09,223.03 117.71,223.53 119.34,224.03 120.97,224.53 122.59,225.02 124.22,225.52 125.85,226.02 127.48,226.52 129.1,227.01 130.73,227.51 132.36,228.01 133.98,228.51 135.61,229 137.24,229.5 138.86,230 140.49,230.5 142.12,230.99 143.75,231.49 145.37,231.99 147,232.49 148.63,232.98 150.25,233.48 151.88,233.98 153.51,234.48 155.14,234.97 156.76,235.47 158.39,235.97 160.02,236.47 161.64,236.96 163.27,237.46 164.9,237.96 166.53,238.46 168.15,238.95 169.78,239.45 171.41,239.95 173.03,240.45 174.66,240.94 176.29,241.44 177.91,241.94 179.54,242.44 181.17,242.93 182.8,243.43 184.42,243.93 186.05,244.43 187.68,244.92 189.3,245.42 190.93,245.92 192.56,246.42 194.19,246.91 195.81,247.41 197.44,247.91 199.07,248.41 200.69,248.9 202.32,249.4 203.95,249.9 205.58,250.4 207.2,250.89 208.83,251.39 210.46,251.89 212.08,252.39 213.71,252.88 215.34,253.38 216.96,253.88 218.59,254.38 220.22,254.87 221.85,255.37 223.47,255.87 225.1,256.37 226.73,256.86 228.35,257.36 229.98,257.86 231.61,258.36 233.24,258.85 234.86,259.35 236.49,259.85 238.12,260.35 239.74,260.84 241.37,261.34 243,261.84 244.62,262.34 246.25,262.83 247.88,263.33 249.51,263.83 251.13,264.33 252.76,264.82 254.39,265.32 256.01,265.82 257.64,266.32 259.27,266.81 260.9,267.31 262.52,267.81 264.15,268.31 265.78,268.8 267.4,269.3 269.03,269.8 270.66,270.3 272.29,270.79 273.91,271.29 275.54,271.79 277.17,272.29 278.79,272.78 280.42,273.28 282.05,273.78 283.68,274.28 285.3,274.77 286.93,275.27 288.56,275.99 290.18,277.11 291.81,278.61 293.44,278.96 295.06,279.18 296.69,280.53 298.32,282.31 299.95,282.63 301.57,281.22 303.2,281.57 304.83,282.02 306.45,282.3 308.08,283.76 309.71,283.47 311.34,285.67 312.96,285.6 314.59,284.88 316.22,286.42 317.84,286.45 319.47,287.41 321.1,287.3 322.73,287.72 324.35,288.31 325.98,289.32 327.61,290.66 329.23,290.83 330.86,289.98 332.49,291.94 334.11,292.7 335.74,292.82 337.37,293.23 339,291.71 340.62,293.17 342.25,292.24 343.88,293.62 345.5,290.08 345.99,294.16 346.48,290.28 346.97,293.62 347.46,290.35 347.94,287.96 348.43,290.53 348.92,289.68 349.41,294.2 349.9,289.44 350.39,291.33 350.87,291.93 351.36,295.35 351.85,288.78 352.34,293.03 352.83,292.52 353.31,294.56 353.8,296.65 354.29,291.62 354.78,294.97 355.27,293.81 355.75,294.42 356.24,291.32 356.73,298.19 357.22,300.36 357.71,296.26 358.2,296.83 358.68,303.1 359.17,296.88 359.66,297.5 360.15,297.98 360.64,304.33 361.12,304.32 361.61,302.25 362.1,304.07 362.59,299.68 363.08,305.1 363.56,303.91 364.05,304.94 364.54,304.34 365.03,304.86 365.52,303.01 366.01,301.14 366.49,303.77 366.98,301.83 367.47,305.03 367.96,305.49 368.45,304.29 368.93,301.69 369.42,299.09 369.91,299.23 370.4,298.99 370.89,299.1 371.37,300.7 371.86,292.62 372.35,294.73 372.84,293.78 373.33,294.81 373.82,295.98 374.3,294.88 374.79,293.45 375.28,294.29 375.77,293.36 376.26,294.68 376.74,293.19 377.23,292.85 377.72,290.55 378.21,297.12 378.7,294.07 379.18,297.1 379.67,299.98 380.16,302.29 380.65,303.79 381.14,297.41 381.63,301.34 382.11,302.81 382.6,304.93 383.09,304.45 383.58,309.19 384.07,306.89 384.55,309.47 385.04,315.26 385.53,314.32 386.02,312.74 386.51,310.57 386.99,318.02 387.48,314.8 387.97,309.61 388.46,309.45 388.95,310.7 389.44,309.82 389.92,305.25 390.41,309.57 390.9,303.31 391.39,301.55 391.88,305.05 392.36,298.29 392.85,301.29 393.34,297.21 393.83,301.14 394.32,299.33 394.8,300.89 395.29,306.13 395.78,304.11 396.27,306.66 396.76,310.89 397.25,310.99 397.73,312.35 398.22,315.08 398.71,315.23 399.2,315.61 399.69,319.3 400.17,309.39 400.66,313.11 401.15,311.61 401.64,308.23 402.13,301.4 402.61,303.9 403.1,301.81 403.59,310.91 404.08,316.2 404.57,318.66 405.06,322.95 405.54,327.7 406.03,318.85 406.52,310.81 407.01,301.52 407.5,295.59 407.98,282.35 408.35,275.9" fill="none" stroke="#00ffff" stroke-width="1.0" />
<path d="M290.18 277.11m-1.5 0a1.5 1.5 0 1 0 3 0a1.5 1.5 0 1 0 -3 0M291.81 278.61m-1.5 0a1.5 1.5 0 1 0 3 0a1.5 1.5 0 1 0 -3 0M293.44 278.96m-1.5 0a1.5 1.5 0 1 0 3 0a1.5 1.5 0 1 0 -3 0M295.06 279.18m-1.5 0a1.5 1.5 0 1 0 3 0a1.5 1.5 0 1 0 -3 0M296.69 280.53m-1.5 0a1.5 1.5 0 1 0 3 0a1.5 1.5 0 1 0 -3 0M298.32 282.31m-1.5 0a1.5 1.5 0 1 0 3 0a1.5 1.5 0 1 0 -3 0M299.95 282.63m-1.5 0a1.5 1.5 0 1 0 3 0a1.5 1.5 0 1 0 -3 0M301.57 281.22m-1.5 0a1.5 1.5 0 1 0 3 0a1.5 1.5 0 1 0 -3 0M303.2 281.57m-1.5 0a1.5 1.5 0 1 0 3 0a1.5 1.5 0 1 0 -3 0M304.83 282.02m-1.5 0a1.5 1.5 0 1 0 3 0a1.5 1.5 0 1 0 -3 0M306.45 282.3m-1.5 0a1.5 1.5 0 1 0 3 0a1.5 1.5 0 1 0 -3 0M308.08 283.76m-1.5 0a1.5 1.5 0 1 0 3 0a1.5 1.5 0 1 0 -3 0M309.71 283.47m-1.5 0a1.5 1.5 0 1 0 3 0a1.5 1.5 0 1 0 -3 0M311.34 285.67m-1.5 0a1.5 1.5 0 1 0 3 0a1.5 1.5 0 1 0 -3 0M312.96 285.6m-1.5 0a1.5 1.5 0 1 0 3 0a1.5 1.5 0 1 0 -3 0M314.59 284.88m-1.5 0a1.5 1.5 0 1 0 3 0a1.5 1.5 0 1 0 -3 0M316.22 286.42m-1.5 0a1.5 1.5 0 1 0 3 0a1.5 1.5 0 1 0 -3 0M317.84 286.45m-1.5 0a1.5 1.5 0 1 0 3 0a1.5 1.5 0 1 0 -3 0M319.47 287.41m-1.5 0a1.5 1.5 0 1 0 3 0a1.5 1.5 0 1 0 -3 0M321.1 287.3m-1.5 0a1.5 1.5 0 1 0 3 0a1.5 1.5 0 1 0 -3 0M322.73 287.72m-1.5 0a1.5 1.5 0 1 0 3 0a1.5 1.5 0 1 0 -3 0M324.35 288.31m-1.5 0a1.5 1.5 0 1 0 3 0a1.5 1.5 0 1 0 -3 0M325.98 289.32m-1.5 0a1.5 1.5 0 1 0 3 0a1.5 1.5 0 1 0 -3 0M327.61 290.66m-1.5 0a1.5 1.5 0 1 0 3 0a1.5 1.5 0 1 0 -3 0M329.23 290.83m-1.5 0a1.5 1.5 0 1 0 3 0a1.5 1.5 0 1 0 -3 0M330.86 289.98m-1.5 0a1.5 1.5 0 1 0 3 0a1.5 1.5 0 1 0 -3 0M332.49 291.94m-1.5 0a1.5 1.5 0 1 0 3 0a1.5 1.5 0 1 0 -3 0M334.11 292.7m-1.5 0a1.5 1.5 0 1 0 3 0a1.5 1.5 0 1 0 -3 0M335.74 292.82m-1.5 0a1.5 1.5 0 1 0 3 0a1.5 1.5 0 1 0 -3 0M337.37 293.23m-1.5 0a1.5 1.5 0 1 0 3 0a1.5 1.5 0 1 0 -3 0M339 291.71m-1.5 0a1.5 1.5 0 1 0 3 0a1.5 1.5 0 1 0 -3 0M340.62 293.17m-1.5 0a1.5 1.5 0 1 0 3 0a1.5 1.5 0 1 0 -3 0M342.25 292.24m-1.5 0a1.5 1.5 0 1 0 3 0a1.5 1.5 0 1 0 -3 0M343.88 293.62m-1.5 0a1.5 1.5 0 1 0 3 0a1.5 1.5 0 1 0 -3 0M345.5 290.08m-1.5 0a1.5 1.5 0 1 0 3 0a1.5 1.5 0 1 0 -3 0M345.99 294.16m-1.5 0a1.5 1.5 0 1 0 3 0a1.5 1.5 0 1 0 -3 0M346.48 290.28m-1.5 0a1.5 1.5 0 1 0 3 0a1.5 1.5 0 1 0 -3 0M346.97 293.62m-1.5 0a1.5 1.5 0 1 0 3 0a1.5 1.5 0 1 0 -3 0M347.46 290.35m-1.5 0a1.5 1.5 0 1 0 3 0a1.5 1.5 0 1 0 -3 0M347.94 287.96m-1.5 0a1.5 1.5 0 1 0 3 0a1.5 1.5 0 1 0 -3 0M348.43 290.53m-1.5 0a1.5 1.5 0 1 0 3 0a1.5 1.5 0 1 0 -3 0M348.92 289.68m-1.5 0a1.5 1.5 0 1 0 3 0a1.5 1.5 0 1 0 -3 0M349.41 294.2m-1.5 0a1.5 1.5 0 1 0 3 0a1.5 1.5 0 1 0 -3 0M349.9 289.44m-1.5 0a1.5 1.5 0 1 0 3 0a1.5 1.5 0 1 0 -3 0M350.39 291.33m-1.5 0a1.5 1.5 0 1 0 3 0a1.5 1.5 0 1 0 -3 0M350.87 291.93m-1.5 0a1.5 1.5 0 1 0 3 0a1.5 1.5 0 1 0 -3 0M351.36 295.35m-1.5 0a1.5 1.5 0 1 0 3 0a1.5 1.5 0 1 0 -3 0M351.85 288.78m-1.5 0a1.5 1.5 0 1 0 3 0a1.5 1.5 0 1 0 -3 0M352.34 293.03m-1.5 0a1.5 1.5 0 1 0 3 0a1.5 1.5 0 1 0 -3 0M352.83 292.52m-1.5 0a1.5 1.5 0 1 0 3 0a1.5 1.5 0 1 0 -3 0M353.31 294.56m-1.5 0a1.5 1.5 0 1 0 3 0a1.5 1.5 0 1 0 -3 0M353.8 296.65m-1.5 0a1.5 1.5 0 1 0 3 0a1.5 1.5 0 1 0 -3 0M354.29 291.62m-1.5 0a1.5 1.5 0 1 0 3 0a1.5 1.5 0 1 0 -3 0M354.78 294.97m-1.5 0a1.5 1.5 0 1 0 3 0a1.5 1.5 0 1 0 -3 0M355.27 293.81m-1.5 0a1.5 1.5 0 1 0 3 0a1.5 1.5 0 1 0 -3 0M355.75 294.42m-1.5 0a1.5 1.5 0 1 0 3 0a1.5 1.5 0 1 0 -3 0M356.24 291.32m-1.5 0a1.5 1.5 0 1 0 3 0a1.5 1.5 0 1 0 -3 0M356.73 298.19m-1.5 0a1.5 1.5 0 1 0 3 0a1.5 1.5 0 1 0 -3 0M357.22 300.36m-1.5 0a1.5 1.5 0 1 0 3 0a1.5 1.5 0 1 0 -3 0M357.71 296.26m-1.5 0a1.5 1.5 0 1 0 3 0a1.5 1.5 0 1 0 -3 0M358.2 296.83m-1.5 0a1.5 1.5 0 1 0 3 0a1.5 1.5 0 1 0 -3 0M358.68 303.1m-1.5 0a1.5 1.5 0 1 0 3 0a1.5 1.5 0 1 0 -3 0M359.17 296.88m-1.5 0a1.5 1.5 0 1 0 3 0a1.5 1.5 0 1 0 -3 0M359.66 297.5m-1.5 0a1.5 1.5 0 1 0 3 0a1.5 1.5 0 1 0 -3 0M360.15 297.98m-1.5 0a1.5 1.5 0 1 0 3 0a1.5 1.5 0 1 0 -3 0M360.64 304.33m-1.5 0a1.5 1.5 0 1 0 3 0a1.5 1.5 0 1 0 -3 0M361.12 304.32m-1.5 0a1.5 1.5 0 1 0 3 0a1.5 1.5 0 1 0 -3 0M361.61 302.25m-1.5 0a1.5 1.5 0 1 0 3 0a1.5 1.5 0 1 0 -3 0M362.1 304.07m-1.5 0a1.5 1.5 0 1 0 3 0a1.5 1.5 0 1 0 -3 0M362.59 299.68m-1.5 0a1.5 1.5 0 1 0 3 0a1.5 1.5 0 1 0 -3 0M363.08 305.1m-1.5 0a1.5 1.5 0 1 0 3 0a1.5 1.5 0 1 0 -3 0M363.56 303.91m-1.5 0a1.5 1.5 0 1 0 3 0a1.5 1.5 0 1 0 -3 0M364.05 304.94m-1.5 0a1.5 1.5 0 1 0 3 0a1.5 1.5 0 1 0 -3 0M364.54 304.34m-1.5 0a1.5 1.5 0 1 0 3 0a1.5 1.5 0 1 0 -3 0M365.03 304.86m-1.5 0a1.5 1.5 0 1 0 3 0a1.5 1.5 0 1 0 -3 0M365.52 303.01m-1.5 0a1.5 1.5 0 1 0 3 0a1.5 1.5 0 1 0 -3 0M366.01 301.14m-1.5 0a1.5 1.5 0 1 0 3 0a1.5 1.5 0 1 0 -3 0M366.49 303.77m-1.5 0a1.5 1.5 0 1 0 3 0a1.5 1.5 0 1 0 -3 0M366.98 301.83m-1.5 0a1.5 1.5 0 1 0 3 0a1.5 1.5 0 1 0 -3 0M367.47 305.03m-1.5 0a1.5 1.5 0 1 0 3 0a1.5 1.5 0 1 0 -3 0M367.96 305.49m-1.5 0a1.5 1.5 0 1 0 3 0a1.5 1.5 0 1 0 -3 0M368.45 304.29m-1.5 0a1.5 1.5 0 1 0 3 0a1.5 1.5 0 1 0 -3 0M368.93 301.69m-1.5 0a1.5 1.5 0 1 0 3 0a1.5 1.5 0 1 0 -3 0M369.42 299.09m-1.5 0a1.5 1.5 0 1 0 3 0a1.5 1.5 0 1 0 -3 0M369.91 299.23m-1.5 0a1.5 1.5 0 1 0 3 0a1.5 1.5 0 1 0 -3 0M370.4 298.99m-1.5 0a1.5 1.5 0 1 0 3 0a1.5 1.5 0 1 0 -3 0M370.89 299.1m-1.5 0a1.5 1.5 0 1 0 3 0a1.5 1.5 0 1 0 -3 0M371.37 300.7m-1.5 0a1.5 1.5 0 1 0 3 0a1.5 1.5 0 1 0 -3 0M371.86 292.62m-1.5 0a1.5 1.5 0 1 0 3 0a1.5 1.5 0 1 0 -3 0M372.35 294.73m-1.5 0a1.5 1.5 0 1 0 3 0a1.5 1.5 0 1 0 -3 0M372.84 293.78m-1.5 0a1.5 1.5 0 1 0 3 0a1.5 1.5 0 1 0 -3 0M373.33 294.81m-1.5 0a1.5 1.5 0 1 0 3 0a1.5 1.5 0 1 0 -3 0M373.82 295.98m-1.5 0a1.5 1.5 0 1 0 3 0a1.5 1.5 0 1 0 -3 0M374.3 294.88m-1.5 0a1.5 1.5 0 1 0 3 0a1.5 1.5 0 1 0 -3 0M374.79 293.45m-1.5 0a1.5 1.5 0 1 0 3 0a1.5 1.5 0 1 0 -3 0M375.28 294.29m-1.5 0a1.5 1.5 0 1 0 3 0a1.5 1.5 0 1 0 -3 0M375.77 293.36m-1.5 0a1.5 1.5 0 1 0 3 0a1.5 1.5 0 1 0 -3 0M376.26 294.68m-1.5 0a1.5 1.5 0 1 0 3 0a1.5 1.5 0 1 0 -3 0M376.74 293.19m-1.5 0a1.5 1.5 0 1 0 3 0a1.5 1.5 0 1 0 -3 0M377.23 292.85m-1.5 0a1.5 1.5 0 1 0 3 0a1.5 1.5 0 1 0 -3 0M377.72 290.55m-1.5 0a1.5 1.5 0 1 0 3 0a1.5 1.5 0 1 0 -3 0M378.21 297.12m-1.5 0a1.5 1.5 0 1 0 3 0a1.5 1.5 0 1 0 -3 0M378.7 294.07m-1.5 0a1.5 1.5 0 1 0 3 0a1.5 1.5 0 1 0 -3 0M379.18 297.1m-1.5 0a1.5 1.5 0 1 0 3 0a1.5 1.5 0 1 0 -3 0M379.67 299.98m-1.5 0a1.5 1.5 0 1 0 3 0a1.5 1.5 0 1 0 -3 0M380.16 302.29m-1.5 0a1.5 1.5 0 1 0 3 0a1.5 1.5 0 1 0 -3 0M380.65 303.79m-1.5 0a1.5 1.5 0 1 0 3 0a1.5 1.5 0 1 0 -3 0M381.14 297.41m-1.5 0a1.5 1.5 0 1 0 3 0a1.5 1.5 0 1 0 -3 0M381.63 301.34m-1.5 0a1.5 1.5 0 1 0 3 0a1.5 1.5 0 1 0 -3 0M382.11 302.81m-1.5 0a1.5 1.5 0 1 0 3 0a1.5 1.5 0 1 0 -3 0M382.6 304.93m-1.5 0a1.5 1.5 0 1 0 3 0a1.5 1.5 0 1 0 -3 0M383.09 304.45m-1.5 0a1.5 1.5 0 1 0 3 0a1.5 1.5 0 1 0 -3 0M383.58 309.19m-1.5 0a1.5 1.5 0 1 0 3 0a1.5 1.5 0 1 0 -3 0M384.07 306.89m-1.5 0a1.5 1.5 0 1 0 3 0a1.5 1.5 0 1 0 -3 0M384.55 309.47m-1.5 0a1.5 1.5 0 1 0 3 0a1.5 1.5 0 1 0 -3 0M385.04 315.26m-1.5 0a1.5 1.5 0 1 0 3 0a1.5 1.5 0 1 0 -3 0M385.53 314.32m-1.5 0a1.5 1.5 0 1 0 3 0a1.5 1.5 0 1 0 -3 0M386.02 312.74m-1.5 0a1.5 1.5 0 1 0 3 0a1.5 1.5 0 1 0 -3 0M386.51 310.57m-1.5 0a1.5 1.5 0 1 0 3 0a1.5 1.5 0 1 0 -3 0M386.99 318.02m-1.5 0a1.5 1.5 0 1 0 3 0a1.5 1.5 0 1 0 -3 0M387.48 314.8m-1.5 0a1.5 1.5 0 1 0 3 0a1.5 1.5 0 1 0 -3 0M387.97 309.61m-1.5 0a1.5 1.5 0 1 0 3 0a1.5 1.5 0 1 0 -3 0M388.46 309.45m-1.5 0a1.5 1.5 0 1 0 3 0a1.5 1.5 0 1 0 -3 0M388.95 310.7m-1.5 0a1.5 1.5 0 1 0 3 0a1.5 1.5 0 1 0 -3 0M389.44 309.82m-1.5 0a1.5 1.5 0 1 0 3 0a1.5 1.5 0 1 0 -3 0M389.92 305.25m-1.5 0a1.5 1.5 0 1 0 3 0a1.5 1.5 0 1 0 -3 0M390.41 309.57m-1.5 0a1.5 1.5 0 1 0 3 0a1.5 1.5 0 1 0 -3 0M390.9 303.31m-1.5 0a1.5 1.5 0 1 0 3 0a1.5 1.5 0 1 0 -3 0M391.39 301.55m-1.5 0a1.5 1.5 0 1 0 3 0a1.5 1.5 0 1 0 -3 0M391.88 305.05m-1.5 0a1.5 1.5 0 1 0 3 0a1.5 1.5 0 1 0 -3 0M392.36 298.29m-1.5 0a1.5 1.5 0 1 0 3 0a1.5 1.5 0 1 0 -3 0M392.85 301.29m-1.5 0a1.5 1.5 0 1 0 3 0a1.5 1.5 0 1 0 -3 0M393.34 297.21m-1.5 0a1.5 1.5 0 1 0 3 0a1.5 1.5 0 1 0 -3 0M393.83 301.14m-1.5 0a1.5 1.5 0 1 0 3 0a1.5 1.5 0 1 0 -3 0M394.32 299.33m-1.5 0a1.5 1.5 0 1 0 3 0a1.5 1.5 0 1 0 -3 0M394.8 300.89m-1.5 0a1.5 1.5 0 1 0 3 0a1.5 1.5 0 1 0 -3 0M395.29 306.13m-1.5 0a1.5 1.5 0 1 0 3 0a1.5 1.5 0 1 0 -3 0M395.78 304.11m-1.5 0a1.5 1.5 0 1 0 3 0a1.5 1.5 0 1 0 -3 0M396.27 306.66m-1.5 0a1.5 1.5 0 1 0 3 0a1.5 1.5 0 1 0 -3 0M396.76 310.89m-1.5 0a1.5 1.5 0 1 0 3 0a1.5 1.5 0 1 0 -3 0M397.25 310.99m-1.5 0a1.5 1.5 0 1 0 3 0a1.5 1.5 0 1 0 -3 0M397.73 312.35m-1.5 0a1.5 1.5 0 1 0 3 0a1.5 1.5 0 1 0 -3 0M398.22 315.08m-1.5 0a1.5 1.5 0 1 0 3 0a1.5 1.5 0 1 0 -3 0M398.71 315.23m-1.5 0a1.5 1.5 0 1 0 3 0a1.5 1.5 0 1 0 -3 0M399.2 315.61m-1.5 0a1.5 1.5 0 1 0 3 0a1.5 1.5 0 1 0 -3 0M399.69 319.3m-1.5 0a1.5 1.5 0 1 0 3 0a1.5 1.5 0 1 0 -3 0M400.17 309.39m-1.5 0a1.5 1.5 0 1 0 3 0a1.5 1.5 0 1 0 -3 0M400.66 313.11m-1.5 0a1.5 1.5 0 1 0 3 0a1.5 1.5 0 1 0 -3 0M401.15 311.61m-1.5 0a1.5 1.5 0 1 0 3 0a1.5 1.5 0 1 0 -3 0M401.64 308.23m-1.5 0a1.5 1.5 0 1 0 3 0a1.5 1.5 0 1 0 -3 0M402.13 301.4m-1.5 0a1.5 1.5 0 1 0 3 0a1.5 1.5 0 1 0 -3 0M402.61 303.9m-1.5 0a1.5 1.5 0 1 0 3 0a1.5 1.5 0 1 0 -3 0M403.1 301.81m-1.5 0a1.5 1.5 0 1 0 3 0a1.5 1.5 0 1 0 -3 0M403.59 310.91m-1.5 0a1.5 1.5 0 1 0 3 0a1.5 1.5 0 1 0 -3 0M404.08 316.2m-1.5 0a1.5 1.5 0 1 0 3 0a1.5 1.5 0 1 0 -3 0M404.57 318.66m-1.5 0a1.5 1.5 0 1 0 3 0a1.5 1.5 0 1 0 -3 0M405.06 322.95m-1.5 0a1.5 1.5 0 1 0 3 0a1.5 1.5 0 1 0 -3 0M405.54 327.7m-1.5 0a1.5 1.5 0 1 0 3 0a1.5 1.5 0 1 0 -3 0M406.03 318.85m-1.5 0a1.5 1.5 0 1 0 3 0a1.5 1.5 0 1 0 -3 0M406.52 310.81m-1.5 0a1.5 1.5 0 1 0 3 0a1.5 1.5 0 1 0 -3 0M407.01 301.52m-1.5 0a1.5 1.5 0 1 0 3 0a1.5 1.5 0 1 0 -3 0M407.5 295.59m-1.5 0a1.5 1.5 0 1 0 3 0a1.5 1.5 0 1 0 -3 0M407.98 282.35m-1.5 0a1.5 1.5 0 1 0 3 0a1.5 1.5 0 1 0 -3 0M408.35 275.9m-1.5 0a1.5 1.5 0 1 0 3 0a1.5 1.5 0 1 0 -3 0" fill="#00ffff"/>
<line x1="342.66" y1="200.0" x2="342.66" y2="337.4" stroke="#ff00ff" stroke-width="1.4"/>
<polyline points="339.2,266.2 338.1,280.8 340.1,294.6" fill="none" stroke="#ff00ff" stroke-width="1.2" />
<polyline points="342.4,259.3 342.4,273.9 341.1,284.3" fill="none" stroke="#ff00ff" stroke-width="1.2" />
<polyline points="327.8,290 327.8,303 328.4,310.1" fill="none" stroke="#ff00ff" stroke-width="1.2" />
<polyline points="318.4,288 318.4,292 319.4,298.5 320.7,294" fill="none" stroke="#ff00ff" stroke-width="1.2" />
<polyline points="292.8,273.6 295,272.8 298,272 300,273.4" fill="none" stroke="#ff00ff" stroke-width="2.0" />
<rect x="340.6" y="257.5" width="3.6" height="3.6" fill="none" stroke="#ff00ff" stroke-width="0.9"/>
<rect x="337.4" y="264.4" width="3.6" height="3.6" fill="none" stroke="#ff00ff" stroke-width="0.9"/>
<rect x="340.6" y="272.1" width="3.6" height="3.6" fill="none" stroke="#ff00ff" stroke-width="0.9"/>
<rect x="336.3" y="279" width="3.6" height="3.6" fill="none" stroke="#ff00ff" stroke-width="0.9"/>
<rect x="339.3" y="282.5" width="3.6" height="3.6" fill="none" stroke="#ff00ff" stroke-width="0.9"/>
<rect x="338.3" y="292.8" width="3.6" height="3.6" fill="none" stroke="#ff00ff" stroke-width="0.9"/>
<rect x="316.6" y="290.2" width="3.6" height="3.6" fill="none" stroke="#ff00ff" stroke-width="0.9"/>
<rect x="317.6" y="296.7" width="3.6" height="3.6" fill="none" stroke="#ff00ff" stroke-width="0.9"/>
<rect x="318.9" y="292.2" width="3.6" height="3.6" fill="none" stroke="#ff00ff" stroke-width="0.9"/>
<rect x="323.4" y="287.6" width="3.6" height="3.6" fill="none" stroke="#ff00ff" stroke-width="0.9"/>
<rect x="326" y="301.2" width="3.6" height="3.6" fill="none" stroke="#ff00ff" stroke-width="0.9"/>
<rect x="326.6" y="308.3" width="3.6" height="3.6" fill="none" stroke="#ff00ff" stroke-width="0.9"/>
<rect x="331.6" y="294.1" width="3.6" height="3.6" fill="none" stroke="#ff00ff" stroke-width="0.9"/>
<rect x="292.2" y="270.8" width="3.6" height="3.6" fill="none" stroke="#ff00ff" stroke-width="0.9"/>
<rect x="295.7" y="270.2" width="3.6" height="3.6" fill="none" stroke="#ff00ff" stroke-width="0.9"/>
<line x1="277.1" y1="200.0" x2="277.1" y2="269.5" stroke="#0000ff" stroke-width="1.9" stroke-dasharray="5,2,1.5,2"/>
<line x1="265.6" y1="270.5" x2="265.6" y2="278.5" stroke="#0000ff" stroke-width="1.6"/>
<line x1="274.1" y1="272.8" x2="274.1" y2="274.8" stroke="#0000ff" stroke-width="1.6"/>
<polyline points="68.9,208.11 459.4,327.51" fill="none" stroke="#ff0000" stroke-width="6.0" />
<path d="M387.45 307.71L393.05 304.91L393.05 310.51ZM388.47 308.12L394.07 305.32L394.07 310.92ZM389.48 308.36L395.08 305.56L395.08 311.16ZM390.5 306.98L396.1 304.18L396.1 309.78ZM391.52 308.41L397.12 305.61L397.12 311.21ZM392.53 308.37L398.13 305.57L398.13 311.17ZM393.55 308.95L399.15 306.15L399.15 311.75ZM394.57 308.35L400.17 305.55L400.17 311.15ZM395.58 308.81L401.18 306.01L401.18 311.61ZM396.6 309.75L402.2 306.95L402.2 312.55ZM397.62 309.53L403.22 306.73L403.22 312.33ZM398.64 310.44L404.24 307.64L404.24 313.24ZM399.65 309.66L405.25 306.86L405.25 312.46ZM400.67 310.13L406.27 307.33L406.27 312.93ZM401.69 312.13L407.29 309.33L407.29 314.93ZM402.7 311.69L408.3 308.89L408.3 314.49ZM403.72 312.27L409.32 309.47L409.32 315.07ZM404.74 313.24L410.34 310.44L410.34 316.04ZM405.75 312.5L411.35 309.7L411.35 315.3ZM406.77 311.94L412.37 309.14L412.37 314.74ZM407.79 314.43L413.39 311.63L413.39 317.23ZM408.8 314.19L414.4 311.39L414.4 316.99ZM409.82 314.74L415.42 311.94L415.42 317.54ZM410.84 314.97L416.44 312.17L416.44 317.77ZM411.86 316.43L417.46 313.63L417.46 319.23ZM412.87 314.82L418.47 312.02L418.47 317.62ZM413.89 316.46L419.49 313.66L419.49 319.26ZM414.91 315.49L420.51 312.69L420.51 318.29ZM415.92 316.51L421.52 313.71L421.52 319.31ZM416.94 317.16L422.54 314.36L422.54 319.96ZM417.96 316.29L423.56 313.49L423.56 319.09ZM418.97 315.81L424.57 313.01L424.57 318.61ZM419.99 317.52L425.59 314.72L425.59 320.32ZM421.01 318.74L426.61 315.94L426.61 321.54ZM422.02 318.62L427.62 315.82L427.62 321.42ZM423.04 318.42L428.64 315.62L428.64 321.22ZM424.06 319.5L429.66 316.7L429.66 322.3ZM425.08 318.07L430.68 315.27L430.68 320.87ZM426.09 318.38L431.69 315.58L431.69 321.18ZM427.11 319.27L432.71 316.47L432.71 322.07ZM428.13 321.56L433.73 318.76L433.73 324.36ZM429.14 319.4L434.74 316.6L434.74 322.2ZM430.16 319.39L435.76 316.59L435.76 322.19ZM431.18 319.64L436.78 316.84L436.78 322.44ZM432.19 319.71L437.79 316.91L437.79 322.51ZM433.21 321.03L438.81 318.23L438.81 323.83ZM434.23 322.63L439.83 319.83L439.83 325.43ZM435.24 324.05L440.84 321.25L440.84 326.85ZM436.26 322.24L441.86 319.44L441.86 325.04ZM437.28 322.74L442.88 319.94L442.88 325.54ZM438.3 322.71L443.9 319.91L443.9 325.51ZM439.31 323.11L444.91 320.31L444.91 325.91ZM440.33 325.61L445.93 322.81L445.93 328.41ZM441.35 324.9L446.95 322.1L446.95 327.7ZM442.36 323.87L447.96 321.07L447.96 326.67ZM443.38 323.47L448.98 320.67L448.98 326.27ZM444.4 327.04L450 324.24L450 329.84ZM445.41 327.02L451.01 324.22L451.01 329.82ZM446.43 327.96L452.03 325.16L452.03 330.76ZM447.45 325.39L453.05 322.59L453.05 328.19ZM448.46 327.25L454.06 324.45L454.06 330.05ZM449.48 329.47L455.08 326.67L455.08 332.27ZM450.5 328.16L456.1 325.36L456.1 330.96ZM451.52 330.32L457.12 327.52L457.12 333.12ZM452.53 326.63L458.13 323.83L458.13 329.43ZM453.55 331.19L459.15 328.39L459.15 333.99ZM454.57 326.68L460.17 323.88L460.17 329.48ZM455.58 328.92L461.18 326.12L461.18 331.72ZM456.6 327.13L462.2 324.33L462.2 329.93ZM65.7 208.11L72.1 204.91L72.1 211.31ZM423.04 313.81L429.04 310.81L429.04 316.81Z" fill="#ff0000"/>
<polyline points="68.9,208.11 459.4,327.51" fill="none" stroke="#000000" stroke-width="1.75" />
<path d="M68.9 200.0H459.4V337.4H68.9Z" fill="none" stroke="#5e5e5e" stroke-width="1.4"/>
<line x1="68.9" y1="200.0" x2="68.9" y2="204.0" stroke="#5e5e5e" stroke-width="1.3"/>
<line x1="68.9" y1="337.4" x2="68.9" y2="333.4" stroke="#5e5e5e" stroke-width="1.3"/>
<text transform="translate(69.2,361.6) scale(1,1.03)" font-size="19.8" text-anchor="middle" >0</text>
<line x1="150.25" y1="200.0" x2="150.25" y2="204.0" stroke="#5e5e5e" stroke-width="1.3"/>
<line x1="150.25" y1="337.4" x2="150.25" y2="333.4" stroke="#5e5e5e" stroke-width="1.3"/>
<text transform="translate(150.55,361.6) scale(1,1.03)" font-size="19.8" text-anchor="middle" >200</text>
<line x1="231.61" y1="200.0" x2="231.61" y2="204.0" stroke="#5e5e5e" stroke-width="1.3"/>
<line x1="231.61" y1="337.4" x2="231.61" y2="333.4" stroke="#5e5e5e" stroke-width="1.3"/>
<text transform="translate(231.91,361.6) scale(1,1.03)" font-size="19.8" text-anchor="middle" >400</text>
<line x1="312.96" y1="200.0" x2="312.96" y2="204.0" stroke="#5e5e5e" stroke-width="1.3"/>
<line x1="312.96" y1="337.4" x2="312.96" y2="333.4" stroke="#5e5e5e" stroke-width="1.3"/>
<text transform="translate(313.26,361.6) scale(1,1.03)" font-size="19.8" text-anchor="middle" >600</text>
<line x1="394.32" y1="200.0" x2="394.32" y2="204.0" stroke="#5e5e5e" stroke-width="1.3"/>
<line x1="394.32" y1="337.4" x2="394.32" y2="333.4" stroke="#5e5e5e" stroke-width="1.3"/>
<text transform="translate(394.62,361.6) scale(1,1.03)" font-size="19.8" text-anchor="middle" >800</text>
<line x1="68.9" y1="314.5" x2="72.9" y2="314.5" stroke="#5e5e5e" stroke-width="1.3"/>
<line x1="459.4" y1="314.5" x2="455.4" y2="314.5" stroke="#5e5e5e" stroke-width="1.3"/>
<text x="62.3" y="321.5" font-size="19.1" text-anchor="end" >600</text>
<line x1="68.9" y1="268.7" x2="72.9" y2="268.7" stroke="#5e5e5e" stroke-width="1.3"/>
<line x1="459.4" y1="268.7" x2="455.4" y2="268.7" stroke="#5e5e5e" stroke-width="1.3"/>
<text x="62.3" y="275.7" font-size="19.1" text-anchor="end" >700</text>
<line x1="68.9" y1="222.9" x2="72.9" y2="222.9" stroke="#5e5e5e" stroke-width="1.3"/>
<line x1="459.4" y1="222.9" x2="455.4" y2="222.9" stroke="#5e5e5e" stroke-width="1.3"/>
<text x="62.3" y="229.9" font-size="19.1" text-anchor="end" >800</text>
<text transform="translate(23.4,274.1) rotate(-90)" font-size="22.0" text-anchor="middle">Doppler freq. (Hz)</text>
<text x="264.7" y="386.8" font-size="22.2" text-anchor="middle" >Time (s)</text>
<line x1="94.5" y1="392.3" x2="94.5" y2="511.4" stroke="#e4e4e4" stroke-width="1" stroke-dasharray="3,3"/>
<line x1="208.2" y1="392.3" x2="208.2" y2="511.4" stroke="#e4e4e4" stroke-width="1" stroke-dasharray="3,3"/>
<line x1="317" y1="392.3" x2="317" y2="511.4" stroke="#e4e4e4" stroke-width="1" stroke-dasharray="3,3"/>
<line x1="416.5" y1="392.3" x2="416.5" y2="511.4" stroke="#e4e4e4" stroke-width="1" stroke-dasharray="3,3"/>
<line x1="65.3" y1="471.7" x2="459.6" y2="471.7" stroke="#e4e4e4" stroke-width="1" stroke-dasharray="3,3"/>
<line x1="65.3" y1="432" x2="459.6" y2="432" stroke="#e4e4e4" stroke-width="1" stroke-dasharray="3,3"/>
<rect x="94.5" y="396.27" width="39.6" height="115.13" fill="#392b86" stroke="#1c1270" stroke-width="0.9"/>
<text x="115.8" y="391.5" font-size="19.5" text-anchor="middle" >29</text>
<rect x="192.8" y="420.09" width="39.6" height="91.31" fill="#392b86" stroke="#1c1270" stroke-width="0.9"/>
<text x="214.6" y="415.8" font-size="19.5" text-anchor="middle" >23</text>
<rect x="292.2" y="435.97" width="38.8" height="75.43" fill="#392b86" stroke="#1c1270" stroke-width="0.9"/>
<text x="312.2" y="434" font-size="19.5" text-anchor="middle" >19</text>
<rect x="390.6" y="451.85" width="39.4" height="59.55" fill="#392b86" stroke="#1c1270" stroke-width="0.9"/>
<text x="408.8" y="450.3" font-size="19.5" text-anchor="middle" >15</text>
<path d="M65.3 392.3H459.6V511.4H65.3Z" fill="none" stroke="#5e5e5e" stroke-width="1.4"/>
<line x1="94.5" y1="392.3" x2="94.5" y2="396.3" stroke="#5e5e5e" stroke-width="1.3"/>
<line x1="94.5" y1="511.4" x2="94.5" y2="507.4" stroke="#5e5e5e" stroke-width="1.3"/>
<line x1="208.2" y1="392.3" x2="208.2" y2="396.3" stroke="#5e5e5e" stroke-width="1.3"/>
<line x1="208.2" y1="511.4" x2="208.2" y2="507.4" stroke="#5e5e5e" stroke-width="1.3"/>
<line x1="317" y1="392.3" x2="317" y2="396.3" stroke="#5e5e5e" stroke-width="1.3"/>
<line x1="317" y1="511.4" x2="317" y2="507.4" stroke="#5e5e5e" stroke-width="1.3"/>
<line x1="416.5" y1="392.3" x2="416.5" y2="396.3" stroke="#5e5e5e" stroke-width="1.3"/>
<line x1="416.5" y1="511.4" x2="416.5" y2="507.4" stroke="#5e5e5e" stroke-width="1.3"/>
<line x1="65.3" y1="511.4" x2="69.3" y2="511.4" stroke="#5e5e5e" stroke-width="1.3"/>
<line x1="459.6" y1="511.4" x2="455.6" y2="511.4" stroke="#5e5e5e" stroke-width="1.3"/>
<text x="59.8" y="518.4" font-size="17.6" text-anchor="end" >0</text>
<line x1="65.3" y1="471.7" x2="69.3" y2="471.7" stroke="#5e5e5e" stroke-width="1.3"/>
<line x1="459.6" y1="471.7" x2="455.6" y2="471.7" stroke="#5e5e5e" stroke-width="1.3"/>
<text x="59.8" y="478.7" font-size="17.6" text-anchor="end" >10</text>
<line x1="65.3" y1="432" x2="69.3" y2="432" stroke="#5e5e5e" stroke-width="1.3"/>
<line x1="459.6" y1="432" x2="455.6" y2="432" stroke="#5e5e5e" stroke-width="1.3"/>
<text x="59.8" y="439" font-size="17.6" text-anchor="end" >20</text>
<line x1="65.3" y1="392.3" x2="69.3" y2="392.3" stroke="#5e5e5e" stroke-width="1.3"/>
<line x1="459.6" y1="392.3" x2="455.6" y2="392.3" stroke="#5e5e5e" stroke-width="1.3"/>
<text x="59.8" y="399.3" font-size="17.6" text-anchor="end" >30</text>
<text x="94.5" y="533.6" font-size="17.75" text-anchor="middle" >2-stage conv1</text>
<text x="208.2" y="533.6" font-size="17.75" text-anchor="middle" >2-stage conv2</text>
<text x="317" y="533.6" font-size="17.75" text-anchor="middle" >2-stage KF1</text>
<text x="416.5" y="533.6" font-size="17.75" text-anchor="middle" >2-stage KF2</text>
<text transform="translate(15.9,455.9) rotate(-90)" font-size="19.4" text-anchor="middle">Tracking threshold</text>
<text transform="translate(38.3,447.5) rotate(-90)" font-size="19.3" text-anchor="middle">(dB-Hz)</text>
</svg></body></html>
